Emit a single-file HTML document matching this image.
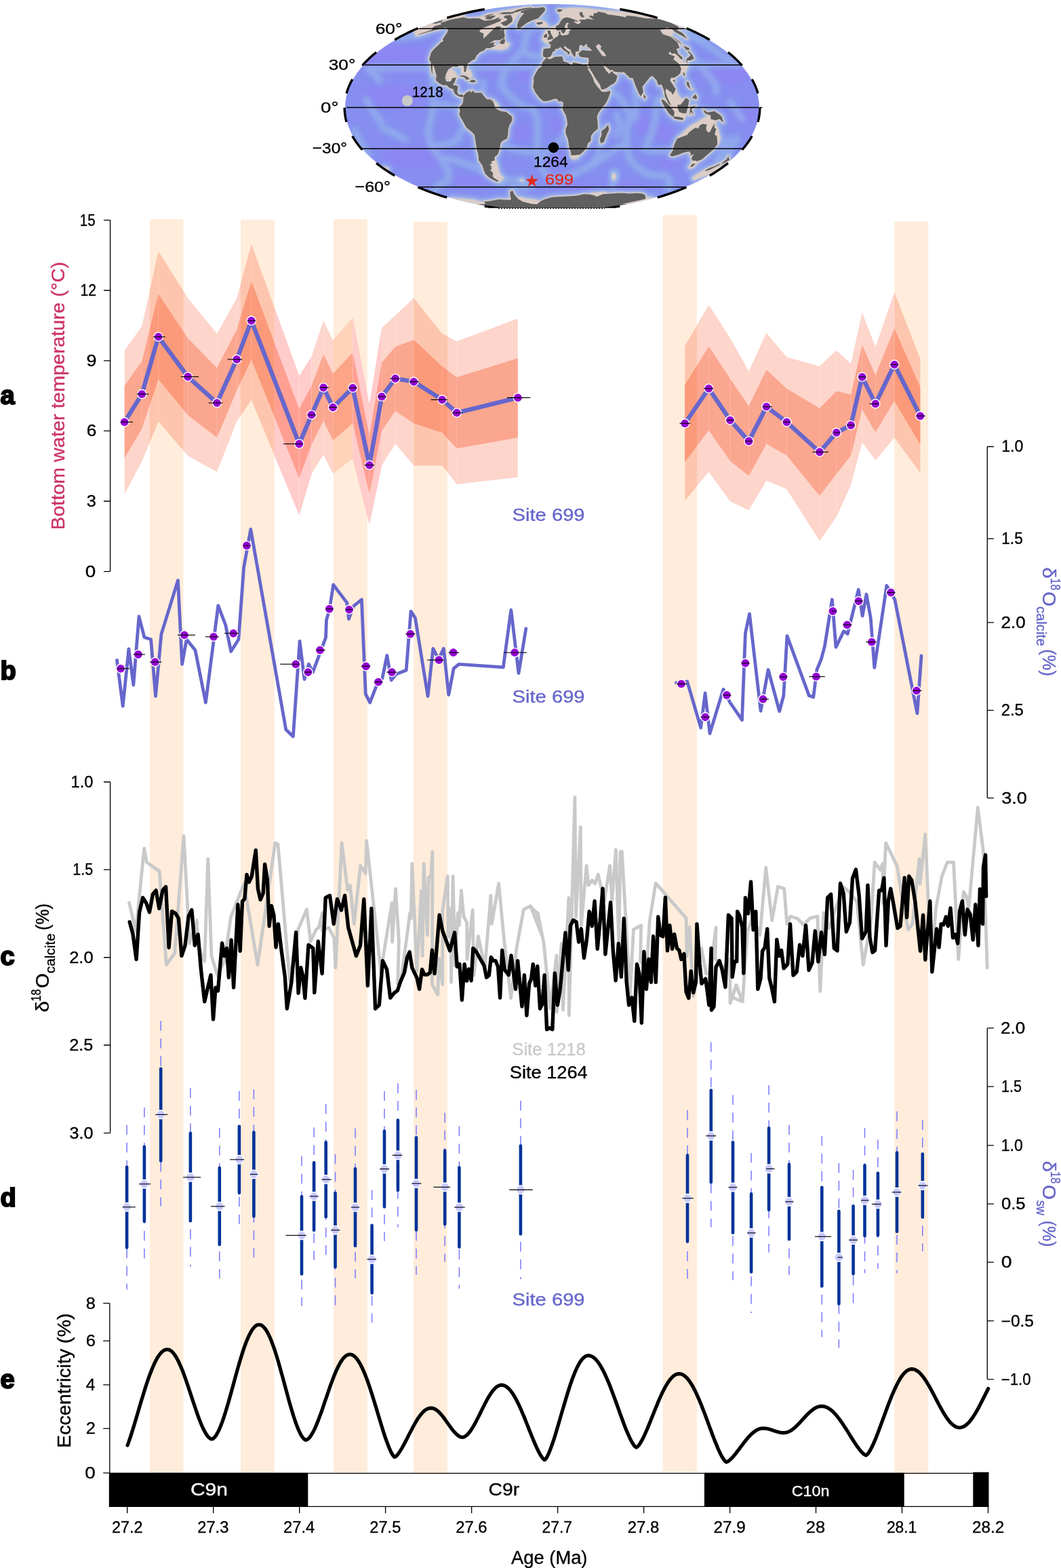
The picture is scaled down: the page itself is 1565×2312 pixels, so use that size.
<!DOCTYPE html>
<html lang="en">
<head>
<meta charset="utf-8">
<title>Bottom water temperature and oxygen isotope records, Site 699</title>
<style>
html,body{margin:0;padding:0;background:#fff;}
body{width:1565px;height:2312px;}
svg{display:block;font-family:'Liberation Sans', Arial, Helvetica, sans-serif;}
</style>
</head>
<body>
<svg width="1565" height="2312" viewBox="0 0 1565 2312">
<rect width="1565" height="2312" fill="#fff"/>
<defs>
<clipPath id="globe"><ellipse cx="814.5" cy="158.8" rx="305.7" ry="153"/></clipPath>
<clipPath id="crop"><rect x="500" y="0" width="640" height="306.8"/></clipPath>
<filter id="b1" x="-30%" y="-30%" width="160%" height="160%"><feGaussianBlur stdDeviation="0.8"/></filter>
<filter id="b2" x="-30%" y="-30%" width="160%" height="160%"><feGaussianBlur stdDeviation="1.8"/></filter>
<filter id="b3" x="-30%" y="-30%" width="160%" height="160%"><feGaussianBlur stdDeviation="3"/></filter>
<filter id="b6" x="-30%" y="-30%" width="160%" height="160%"><feGaussianBlur stdDeviation="6"/></filter>
</defs>
<g id="map">
<g clip-path="url(#crop)"><g clip-path="url(#globe)">
<rect x="500" y="0" width="640" height="320" fill="#868ff0"/>
<g fill="#8d86f3" filter="url(#b6)" opacity="0.9"><ellipse cx="589.4" cy="87.2" rx="60" ry="22"/><ellipse cx="578.2" cy="142" rx="50" ry="18"/><ellipse cx="611.9" cy="230.4" rx="50" ry="18"/><ellipse cx="1070.2" cy="107" rx="40" ry="20"/><ellipse cx="1102.5" cy="169.3" rx="25" ry="12"/><ellipse cx="728" cy="101" rx="22" ry="12"/><ellipse cx="774" cy="113.1" rx="12" ry="10"/><ellipse cx="768.4" cy="196.3" rx="16" ry="14"/><ellipse cx="814.5" cy="236.2" rx="20" ry="10"/><ellipse cx="819.5" cy="183.9" rx="10" ry="12"/><ellipse cx="948.5" cy="183.9" rx="14" ry="14"/><ellipse cx="979.1" cy="196.3" rx="14" ry="14"/><ellipse cx="905.1" cy="196.3" rx="10" ry="10"/><ellipse cx="987.2" cy="240" rx="18" ry="8"/><ellipse cx="694.6" cy="267.1" rx="30" ry="8"/><ellipse cx="847.5" cy="275.4" rx="30" ry="6"/><ellipse cx="917.1" cy="272.2" rx="30" ry="6"/></g>
<path d="M808 24.1L803 28.4L797.2 32.8L790.7 37.4L783.7 42.2L775.5 52.2L774.8 62.8L772.1 73.8L764.7 81.4L757 89.1L750.8 97L744.5 105L741.6 113.1L738.8 121.3L744.1 133.7L750.5 140L757 146.2L763.6 151.5L770.3 156.7L778.8 158.8L787.3 160.9L792.6 175.6L792.8 186L793.1 196.3L792.7 206.5L792.5 216.6L793.2 226.5L794 236.2L797.6 243.8L801 251.2L809.5 262L814.5 263.7L819.4 265.4 M819.4 265.4L825.2 264.3L831.1 263.1L837.1 262L842.7 259L848.6 256L854.6 253L861 249.4L867.6 245.7L874.4 241.9L883.3 236.2L892.5 230.4L900.1 225.5L907.7 220.6L915.4 215.6L923.2 210.6 M923.2 210.6L924 200.4L924.2 190.1L927.1 180.8L929.6 171.4L925.7 163L921.5 154.6L912.4 142L901.6 133.7 M923.2 210.6L926 221.6L927.7 232.4L932.1 238.1L935.9 243.8L940.4 246.9L944.5 250L948.3 253L953.3 254.8L958.1 256.6L962.7 258.4L969.2 258.4L975.6 258.4L982.1 258.4L984.6 261.4L986.7 264.3L988.4 267.1L987.8 270.5L986.6 273.8L984.8 277.1L986.2 278.6L987.4 280.2L988.3 281.8 M951.2 220.6L954.9 212.6L958.2 204.5L961 196.3L963.4 188L965.4 179.7L966.8 171.4L967.9 163L968.4 154.6L968.5 146.2 M637.8 113.1L637.7 123.3L638.6 133.7L638.7 144.1L639.6 154.6L637.2 165.1L635.6 175.6L633.2 186L631.7 196.3L633.8 206.5L636.8 216.6L643.9 226.5L651.9 236.2L656.4 244.7L662 253L661.5 259.3L662.2 265.4L658.6 267.1L655.2 268.8L652 270.5L649.1 272.2L646.5 273.8L644.2 275.4L642.9 277.1L641.9 278.6L641.2 280.2L640.7 281.8 M649.2 232.4L656.5 233.7L663.8 234.9L670.9 236.2L678.4 238.8L685.8 241.3L693.1 243.8L701.7 247.5L710.3 251.2 M639.6 154.6L646.4 154.6L653.2 154.6L665.1 156.7L675.2 158.8 M681.5 190.1L676.7 204.5L670 208.6L663.5 212.6L656.9 213.3L650.3 213.9L643.7 214.6 M560.2 119.2L556.2 114.1L552.7 109L547.4 105L542.5 101L548.9 100.9L555.3 100.8L561.7 100.8L568 100.7L574.4 100.6L580.8 100.6L587.2 100.5L593.6 100.4L600 100.4L606.3 100.3L612.7 100.2L619.1 100.2L625.4 100.1L631.8 100L638.2 99.9L644.5 99.9L650.9 99.8L657.2 99.7L663.6 99.7L669.9 99.6L676.3 99.5L682.6 99.5L689 99.4L695.3 99.3L701.6 99.3L708 99.2L714.3 99.1L720.6 99.1L727 99L733.3 98.9L739.6 98.8L745.9 98.8L752.2 98.7L758.6 98.6L764.9 98.6L771.2 98.5L777.5 98.4L783.8 98.4L790.1 98.3L796.4 98.2L802.7 98.2L809 98.1L815.3 98L821.5 98L827.8 97.9L834.1 97.8L840.4 97.7L846.7 97.7L852.9 97.6L859.2 97.5L865.5 97.5L871.7 97.4L878 97.3L884.3 97.3L890.5 97.2L896.8 97.1L903 97.1L909.3 97L915.5 96.9L921.8 96.9L928 96.8L934.2 96.7L940.5 96.6L946.7 96.6L952.9 96.5L959.2 96.4L965.4 96.4L971.6 96.3L977.8 96.2L984 96.2L990.3 96.1L996.5 96L1002.7 96L1008.9 95.9L1015.1 95.8L1021.3 95.8L1027.5 95.7L1033.7 95.6L1039.9 95.6L1046 95.5L1052.2 95.4L1058.4 95.4L1064.6 95.3L1070.8 95.2L1076.9 95.1L1083.1 95.1L1089.3 95L1067.1 83.3L1056.9 75.7L1045.8 68.2L1022.7 55.6 M796.6 232.4L802.4 227.5L808.3 222.6L814.5 217.6L820.9 212.6L830.8 202.5 M786.9 224.6L779.1 223.6L771.3 222.6L764.9 221.6L758.6 220.6L751.8 217.6L744.9 214.6 M936.8 133.7L937.9 144.1L938.4 154.6L937.5 165.1L936 175.6 M909.4 169.3L915 183.9L912.3 192.2L909.3 200.4 M885.7 214.6L882.5 228.5L877.5 236.2 M908.2 253L907.1 265.4L902.4 275.4 M959.6 222.6L965.8 222.6L972 222.6L980.2 221.6L988.5 220.6 M522.8 192.2L527.2 202.5L533.1 212.6L538 220.6L543.9 228.5 M1073.8 204.5L1070.5 212.6L1066.2 220.6L1062.5 228.5L1057.7 236.2 M1086.8 204.5L1081.6 212.6L1075.5 220.6L1074.6 228.5 M540.3 146.2L544.6 154.6L549.7 163L555.5 171.4L562.1 179.7 M564.4 188L572.5 192.2L580.7 196.3L589.4 201.4L598.3 206.5 M1029.2 91.1L1036.3 100L1042.5 109L1049.8 117.2L1056.5 125.4L1056.3 135.8 M1077.3 150.4L1086.1 163L1094.7 175.6 M771.3 77.6L776.7 79.5L782.3 81.4L788 82.3L793.8 83.3 M736.6 268.8L741.9 267.1L747.5 265.4L752.8 265.4L758.1 265.4L763.3 265.4L768.7 266.6L773.9 267.7L779.1 268.8L784.3 273.8L779.8 274.9L775.6 276L771.4 277.1L766 277.1L760.6 277.1L755.2 277.1 M712.4 121.3L712.5 131.6 M622.6 50.5L613.5 52.2L604.3 53.9L595.8 55.2L587.1 56.5 M1041.9 56.5L1034.5 55.2L1027.2 53.9L1012.4 50.5" fill="none" stroke="#90b0ec" stroke-width="13" stroke-linecap="round" stroke-linejoin="round" filter="url(#b3)" opacity="0.5"/>
<path d="M808 24.1L803 28.4L797.2 32.8L790.7 37.4L783.7 42.2L775.5 52.2L774.8 62.8L772.1 73.8L764.7 81.4L757 89.1L750.8 97L744.5 105L741.6 113.1L738.8 121.3L744.1 133.7L750.5 140L757 146.2L763.6 151.5L770.3 156.7L778.8 158.8L787.3 160.9L792.6 175.6L792.8 186L793.1 196.3L792.7 206.5L792.5 216.6L793.2 226.5L794 236.2L797.6 243.8L801 251.2L809.5 262L814.5 263.7L819.4 265.4 M819.4 265.4L825.2 264.3L831.1 263.1L837.1 262L842.7 259L848.6 256L854.6 253L861 249.4L867.6 245.7L874.4 241.9L883.3 236.2L892.5 230.4L900.1 225.5L907.7 220.6L915.4 215.6L923.2 210.6 M923.2 210.6L924 200.4L924.2 190.1L927.1 180.8L929.6 171.4L925.7 163L921.5 154.6L912.4 142L901.6 133.7 M923.2 210.6L926 221.6L927.7 232.4L932.1 238.1L935.9 243.8L940.4 246.9L944.5 250L948.3 253L953.3 254.8L958.1 256.6L962.7 258.4L969.2 258.4L975.6 258.4L982.1 258.4L984.6 261.4L986.7 264.3L988.4 267.1L987.8 270.5L986.6 273.8L984.8 277.1L986.2 278.6L987.4 280.2L988.3 281.8 M951.2 220.6L954.9 212.6L958.2 204.5L961 196.3L963.4 188L965.4 179.7L966.8 171.4L967.9 163L968.4 154.6L968.5 146.2 M637.8 113.1L637.7 123.3L638.6 133.7L638.7 144.1L639.6 154.6L637.2 165.1L635.6 175.6L633.2 186L631.7 196.3L633.8 206.5L636.8 216.6L643.9 226.5L651.9 236.2L656.4 244.7L662 253L661.5 259.3L662.2 265.4L658.6 267.1L655.2 268.8L652 270.5L649.1 272.2L646.5 273.8L644.2 275.4L642.9 277.1L641.9 278.6L641.2 280.2L640.7 281.8 M649.2 232.4L656.5 233.7L663.8 234.9L670.9 236.2L678.4 238.8L685.8 241.3L693.1 243.8L701.7 247.5L710.3 251.2 M639.6 154.6L646.4 154.6L653.2 154.6L665.1 156.7L675.2 158.8 M681.5 190.1L676.7 204.5L670 208.6L663.5 212.6L656.9 213.3L650.3 213.9L643.7 214.6 M560.2 119.2L556.2 114.1L552.7 109L547.4 105L542.5 101L548.9 100.9L555.3 100.8L561.7 100.8L568 100.7L574.4 100.6L580.8 100.6L587.2 100.5L593.6 100.4L600 100.4L606.3 100.3L612.7 100.2L619.1 100.2L625.4 100.1L631.8 100L638.2 99.9L644.5 99.9L650.9 99.8L657.2 99.7L663.6 99.7L669.9 99.6L676.3 99.5L682.6 99.5L689 99.4L695.3 99.3L701.6 99.3L708 99.2L714.3 99.1L720.6 99.1L727 99L733.3 98.9L739.6 98.8L745.9 98.8L752.2 98.7L758.6 98.6L764.9 98.6L771.2 98.5L777.5 98.4L783.8 98.4L790.1 98.3L796.4 98.2L802.7 98.2L809 98.1L815.3 98L821.5 98L827.8 97.9L834.1 97.8L840.4 97.7L846.7 97.7L852.9 97.6L859.2 97.5L865.5 97.5L871.7 97.4L878 97.3L884.3 97.3L890.5 97.2L896.8 97.1L903 97.1L909.3 97L915.5 96.9L921.8 96.9L928 96.8L934.2 96.7L940.5 96.6L946.7 96.6L952.9 96.5L959.2 96.4L965.4 96.4L971.6 96.3L977.8 96.2L984 96.2L990.3 96.1L996.5 96L1002.7 96L1008.9 95.9L1015.1 95.8L1021.3 95.8L1027.5 95.7L1033.7 95.6L1039.9 95.6L1046 95.5L1052.2 95.4L1058.4 95.4L1064.6 95.3L1070.8 95.2L1076.9 95.1L1083.1 95.1L1089.3 95L1067.1 83.3L1056.9 75.7L1045.8 68.2L1022.7 55.6 M796.6 232.4L802.4 227.5L808.3 222.6L814.5 217.6L820.9 212.6L830.8 202.5 M786.9 224.6L779.1 223.6L771.3 222.6L764.9 221.6L758.6 220.6L751.8 217.6L744.9 214.6 M936.8 133.7L937.9 144.1L938.4 154.6L937.5 165.1L936 175.6 M909.4 169.3L915 183.9L912.3 192.2L909.3 200.4 M885.7 214.6L882.5 228.5L877.5 236.2 M908.2 253L907.1 265.4L902.4 275.4 M959.6 222.6L965.8 222.6L972 222.6L980.2 221.6L988.5 220.6 M522.8 192.2L527.2 202.5L533.1 212.6L538 220.6L543.9 228.5 M1073.8 204.5L1070.5 212.6L1066.2 220.6L1062.5 228.5L1057.7 236.2 M1086.8 204.5L1081.6 212.6L1075.5 220.6L1074.6 228.5 M540.3 146.2L544.6 154.6L549.7 163L555.5 171.4L562.1 179.7 M564.4 188L572.5 192.2L580.7 196.3L589.4 201.4L598.3 206.5 M1029.2 91.1L1036.3 100L1042.5 109L1049.8 117.2L1056.5 125.4L1056.3 135.8 M1077.3 150.4L1086.1 163L1094.7 175.6 M771.3 77.6L776.7 79.5L782.3 81.4L788 82.3L793.8 83.3 M736.6 268.8L741.9 267.1L747.5 265.4L752.8 265.4L758.1 265.4L763.3 265.4L768.7 266.6L773.9 267.7L779.1 268.8L784.3 273.8L779.8 274.9L775.6 276L771.4 277.1L766 277.1L760.6 277.1L755.2 277.1 M712.4 121.3L712.5 131.6 M622.6 50.5L613.5 52.2L604.3 53.9L595.8 55.2L587.1 56.5 M1041.9 56.5L1034.5 55.2L1027.2 53.9L1012.4 50.5" fill="none" stroke="#a4c8ea" stroke-width="6" stroke-linecap="round" stroke-linejoin="round" filter="url(#b3)" opacity="0.3"/>
<path d="M650.7 33.5L665 29.1L674.3 27.3L683.5 25.5L685.5 26L687.6 26.4L689.7 26.9L692 27.4L697.3 27.1L702.5 26.9L706.9 26.9L708.8 28L710.9 29.1L714.5 30.5L718.9 30.2L723.2 29.8L729.3 28.4L737.4 24.8L734.6 28.4L740.2 27.6L737.6 31.3L726.6 35.8L714.3 40.5L707.7 44.6L707.7 47.1L713.4 49.6L713.1 53.9L713.2 56.9L718.3 52.2L726.3 44.6L732.2 39L737.4 39L739.1 40.5L737.6 44.6L744.2 42.2L743.2 46.3L744.4 51.3L744.3 55.6L737.2 59.2L729.4 59.2L720.8 64.6L729.1 61.9L727.9 66.4L731.5 67.3L722.7 71L717.1 71L713.8 74.7L708.5 76.6L703.2 81.4L700.4 87.2L696.6 89.1L689.9 94L687.9 101L687 106L684.6 106L684.3 101L684 97L678 96.4L674 98.6L668 98L661.5 102L657.9 109L656.6 115.1L658.4 120.3L664.9 120.3L667.2 115.1L673.1 114.5L670.4 121.3L667.8 125.4L671.9 125.8L675.7 127.5L674.3 135.8L677.1 140L680.6 138.9L683.8 141L682.7 143.1L679.4 143.1L676.9 142L674.5 141L670.7 137.9L668.3 131.6L662.8 129.6L658.7 125.4L653.6 125.8L647.8 122.7L642.6 118.2L643.9 112.1L642.3 106L639.7 97L638.3 94L637.9 99L637.8 109L637.8 111.1L636.4 105L635.3 98L635.7 92.1L633 88.1L634.3 83.3L636 77.6L640.5 71.9L647.6 65.5L650.5 62.2L653.9 61L653 57.4L657.4 51.3L660.1 47.1L660.8 44.6L660.6 42.2L657.2 40.5L648.1 43L641.6 44.6L632.3 47.1L620.2 50.5L615.1 51.3L630.4 46.3L637.5 43.8L636.5 42.2L641.6 38.2L651.8 35.8L649.7 35.1Z M769 16.5L767.7 18.9L770.5 18.9L773.2 18.9L767.1 26.9L764.8 31.3L763 35.8L762.8 40.5L766.1 42.2L770.2 39L777.5 33.5L785.3 29.8L789.6 28.4L793.8 26.9L797.1 23.5L800.1 20.2L803.3 16.5L804.2 13.1L802.8 11.7L802 10.5L799.4 10.8L796.7 11.2L793.9 11.5L791.2 11.7L788.5 11.8L785.8 12L781.4 13.1L776.9 14.2Z M753.4 22.1L754 24.1L755.9 26.9L755.6 32L746.6 38.2L742.2 37.4L740.6 35.1L737.5 34.3L747.8 29.8L747.3 26.9L742.4 26.2L745.3 22.8L749.4 22.5Z M719.3 24.1L715.5 26.9L718.6 28.4L724 28.4L731.3 23.5L728.9 22.8L724.2 23.5Z M713.7 24.1L716.1 24.8L725.9 22.1L728.3 20.2L721.7 21.5Z M755.5 17.7L758.1 18L760.7 18.3L770.3 15.3L775.4 14.2L780.2 13.1L784.8 12L784.2 11.5L783.8 11L780.6 11.3L777.3 11.7L773.8 12L763.6 14.2Z M735.4 20.2L738.2 20.5L741.1 20.8L744.1 20.8L747 20.8L751.3 20.5L755.6 20.2L759.4 18.3L757 18.1L754.5 17.9L752.2 17.7L748.8 17.9L745.4 18.1L741.9 18.3Z M736.3 63.1L740.1 64.9L743.6 64.6L745.1 60.1L743.8 56.5L739.7 59.2Z M676.7 113.1L682.2 111.1L688.2 112.5L693.3 116.8L687.8 117.4L684.7 113.7L680 113.1Z M692 120.5L696 117.4L700.7 118.2L702 120.5L697.5 121.7L694.4 120.9Z M683.8 141L687.6 136.8L693.9 133.7L694.3 136.8L697.2 133.7L700.2 136.8L706.9 136.8L710.3 136.8L713.3 141L718 146.2L723.1 146.6L727.2 149.4L729.6 155.7L729.6 158.8L733 160.9L739 164L746.6 165.1L751.8 169.3L755.3 171.4L755.5 177.6L751.7 183.9L749.7 190.1L749.5 196.3L748 204.5L743.5 206.5L739.2 209.6L737.8 214.6L736.8 220.6L735 225.5L733.6 228.5L730.5 230.4L729.2 233.3L730.3 236.2L724.5 238.1L725.4 241.9L721.8 241.9L724.6 244.7L724.9 249.4L723.1 251.2L727.2 254.8L726.7 260.2L729.2 262.8L735.7 266.8L733.6 268L728 265.4L721.7 262L715.9 256.6L713.7 251.2L711.4 243.8L706.1 236.2L705.6 228.5L703.4 220.6L701.8 210.6L699.7 198.4L695.5 194.3L687.8 188L683.3 179.7L679.2 172.4L677.2 168.2L678.7 164L677.8 160.9L678.6 156.7L681.2 154.6L683.1 150.4L683.5 144.1Z M805.6 85.6L811.5 87.2L818.9 83.7L829.3 83.3L831.1 89.1L830.4 90.1L837.5 92.4L844 96.4L845.1 92.1L852.9 93.4L859.3 95L864.7 95L868.7 101L866.4 101L871.5 109L874.7 115.1L876.1 120.3L880.1 126.4L886.5 133.7L887.5 135.2L893.4 135.4L899.9 133.7L900.2 136.8L895.8 148.3L892.6 153.6L885.8 161.9L882.3 167.2L880.5 172.4L881.7 180.8L881.8 190.1L875.5 195.3L871.7 200.4L871.6 207.6L867.1 211.6L865.5 217.6L861.6 222.6L855.4 228.1L847.7 228.9L842.4 229.1L842.1 224.6L839.6 217.6L837.9 205.5L834.3 196.3L834.4 190.1L837.1 183.9L836.4 177.6L834.8 170.3L829.8 160.9L830.6 156.7L830.6 150.8L828.1 149.4L823.8 149.4L821.3 145.6L816.2 146.2L810.3 148.3L801.8 149.4L795.9 144.6L791.8 138.9L789.3 135.8L786.2 128.1L787.4 119.2L786.8 115.1L789.6 109L794 101.6L798.9 98L800 92.1Z M897.1 183.9L898.3 191.2L894.9 198.4L890.6 209.6L886.2 211.6L884.8 205.5L887.4 199.4L887.3 193.2L892.7 189.1Z M801.2 83.3L800.7 80L801.9 71.9L811.7 71L812.5 66.4L808.6 61.9L812.5 61.5L816.4 57.4L819.5 55.6L823.1 53L824.7 50.5L823.8 47.1L826.6 46.3L826.5 50.5L829.1 52.2L831.6 52.2L836.9 51.3L839.5 49.6L839.2 46.3L841.6 44.6L840.7 43.3L845.5 42.6L847.5 42.2L841.9 41.8L837.9 41.3L836.7 37.4L839.2 34.3L835.8 33.2L833 39L833 41.3L835 43L833.6 47.1L831.2 49.6L829.3 48.8L826.8 43.8L823.1 45.4L820.1 43.8L819.8 39L824.6 35.8L827.5 30.5L830.9 26.9L835.4 25.5L840.9 26.5L846.1 28.5L851.5 30.5L853.5 32L847.5 31.6L845.9 32L851.9 35.8L854.4 35.1L856.9 32.8L854.1 29.1L858.2 29.1L862.2 29.1L867 27.6L871.3 28.4L875.7 29.1L868.5 24.1L871.3 22.8L875 24.1L875.6 22.1L875.7 19.5L878.8 19.2L881.9 18.9L881 16.8L886.5 17.9L892.2 18.9L896.9 21.5L902.3 22.1L907.9 22.8L915.3 24.1L922.9 25.5L923.7 24.3L924.2 23.1L929.8 23.6L935.5 24.1L943.8 25.5L952.3 26.9L957.7 27.3L963.2 27.6L968.7 28L974.3 28.4L992.1 34.3L992.3 35.1L1000.3 39L1001.3 42.2L998.7 44.6L1006.9 48.8L1014.2 57.4L995.5 47.1L990.3 42.2L982.6 40.5L980.9 43L977.3 43.4L973.5 43.8L977.6 50.5L988.8 53.9L999.6 62.8L1002.3 71L997.6 71.9L999.1 75.7L1000.4 79.5L1007.3 85.2L1005.1 88.1L999.8 82.3L995.2 78.5L990.9 79.5L988.4 75.7L985.9 79.5L995.4 83.3L993.1 87.2L1001.4 94L1004.8 101L1003.5 108L998.9 112.1L993.5 115.1L990.7 114.1L988.1 118.2L996.7 131.6L994.3 136.8L991.5 140L991 136.8L982.3 130.6L981.6 135.8L984.4 144.1L990.2 155.7L985.9 152.5L980.8 142L979.5 133.7L975.8 124.4L971.1 125.4L968.4 118.2L962.5 112.1L958.9 113.5L955.9 117.2L950.2 124.4L947.5 127.5L948.8 135.8L945.3 142L942.4 137.9L937.1 125.4L933.3 115.1L929.3 115.1L924 110L920.6 106.4L912.7 106.6L905.2 105.4L903.8 103L900 103.6L893.2 98L889.8 97L893.8 104L896.8 107L898 109L902.7 105L905 108L910.7 112.1L908.8 119.2L905.4 123.3L900.7 125.4L895.3 129.6L889.7 132L886.9 131.6L884.8 124.4L878 115.1L873.6 107L869.5 101L868.3 98L867.7 94.4L868.4 90.1L868.1 85.2L862.8 84.8L859.1 84.6L855.1 83.3L853 79.5L855.8 75.7L859.7 73.8L865.6 74.7L873.4 74.7L870.1 71L865.8 68.2L865.9 64.2L862.1 67.3L860.6 69.1L858.5 66.4L855.1 66.4L854.1 71L854.2 74.7L851.7 76.2L848.8 76L848.9 81.4L847.9 84.3L846.1 82.3L842.4 76.6L842 73.8L836.8 71L832.9 67.3L831.8 70.1L835.7 73.8L841.1 77.2L839.2 79.5L837.9 81.4L837.1 77.6L832.2 74.7L829.2 71.9L826.5 69.3L822.9 71.9L818.7 71.9L818.8 74.7L815.2 76.6L813.8 80.4L811.5 83.7L806.3 85.2Z M654.7 28.4L652.5 30.5L650.8 32.8L641.7 35.1L636.9 34.3Z M807.4 59.2L816.4 57.1L814.5 53L812.1 48.8L812.2 46.3L810 44.6L807.7 45.4L808.5 50.5L810.8 52.2L808.9 53.9L808.2 56Z M802 55.6L807 55.6L807.3 50.5L805 50L802.3 52.2Z M791.1 33.5L792.3 35.8L796.1 36.6L800.7 34.3L800.2 32.3L795.2 32.8Z M821 15.3L824.3 17.7L828.2 16.5L830 14.2L827 13.9L824.1 13.6Z M857.9 25.5L862 25.5L859.1 20.2L859.1 17.7L857 18L854.8 18.3L854.9 21.5Z M1014.5 94L1013.3 89.1L1018.6 89.1L1023.8 86.2L1020.9 80.4L1016.2 75.7L1014.1 75.7L1018.8 81.4L1016.9 83.3L1013.3 86.2L1011.8 90.1Z M1012.2 73.8L1016.4 73.8L1016.9 71L1007.8 67.3Z M1006.7 66.4L1001.9 61L988.7 52.2L992.6 55.6Z M948.9 138.9L952.7 143.1L950.8 146.2L949.2 142Z M1007.7 106.6L1010 108L1010.3 113.1L1007.8 110Z M992.6 118.6L995.1 117.2L996.1 120.3L993.8 120.7Z M975.3 146.6L979.7 147.7L985.1 153.6L991.1 159.8L994.9 165.1L993.9 171.4L991.4 171.4L986.6 167.2L981.8 159.8L977.4 152.5Z M992.7 171.8L998.1 172L1002.3 172.4L1008 174.1L1007.6 177L1000.1 176.2L994.4 174.7Z M999.5 154.6L1003.8 154.6L1007 150.4L1012 144.1L1016.4 147.9L1014.9 156.7L1012.1 167.2L1006.2 166.8L1001.7 165.1L999.6 159.8Z M1016.9 170.3L1018.3 157.8L1026.7 155.7L1020 160.9L1022.9 169.3L1019 165.1Z M1037 160.9L1043.5 165.7L1053.8 164L1060.3 168.2L1064.2 171.4L1067.4 180.8L1061 175.6L1055.5 177.6L1048.3 175.6L1048.2 170.3L1040 167.2Z M1012.5 120.3L1015.9 121.3L1017.9 129.6L1021.7 131.6L1016.2 129.6L1013.4 125.4Z M1020.7 144.1L1025.8 138.9L1028.3 144.1L1027 146.6Z M998.8 204.5L994.9 212.6L992.6 221.6L988 229.1L991.6 230.4L1000.6 228.3L1007.3 225.2L1012.7 224L1016.8 223.6L1018.9 226.1L1018.2 230L1023.9 226.5L1020.8 231.4L1020.4 235.3L1021.2 236.8L1025.6 236.8L1028.3 237.8L1035.5 234.9L1042.8 228.5L1052.2 220.6L1058.2 212.6L1057.9 205.5L1057.2 200.4L1054 198.4L1056.4 190.1L1053.7 188L1053.9 181.4L1050.9 187L1046.9 194.9L1044.6 195.3L1041.7 191.8L1041.5 187L1043.2 183.9L1036.8 182.4L1032 184.9L1029.9 189.7L1026.2 188L1022.1 190.7L1016.4 194.9L1013.6 199L1005.2 201.9Z M1021.4 241.4L1026.2 241.6L1021.4 245.7L1018.3 246.6L1018.7 244.7Z M1074.6 229.5L1074.8 233.3L1076.3 235.7L1070.4 239.1L1062.8 242.9L1067.1 239.1L1066.2 238.7L1071.5 235.3Z M1061.9 241L1061.3 243.2L1054.7 246.6L1047.3 250.3L1041.7 252.3L1039.9 251.2L1046.9 247.5L1054.8 244.7Z M702.4 301.1L704.9 301.1L707.4 301.1L709.9 301.1L712.3 301.1L714.8 301.1L715.4 300.5L716.1 299.9L714.8 298.7L713.9 297.4L715.9 297.2L718 296.9L720.2 296.7L722.4 296.4L724.7 296.1L726.6 295.7L728.7 295.3L730.8 294.9L733 294.5L735.3 294.1L738.7 294.3L742.1 294.4L745.5 294.5L748.9 294.7L752.3 294.8L754 293.5L752.4 287.8L752.6 282.5L756.3 281L758.2 286.3L764.5 293.5L771.4 297.4L776.7 298.7L781.7 299.9L786.5 301.1L789.6 301.1L792.7 301.1L794.3 299.3L796.5 297.4L799.4 295.8L802.6 294.1L806.3 293L810.3 291.8L814.5 290.7L818.8 290.4L823.2 290.2L827.6 290L832.1 289.7L836.6 289.5L841.1 289.2L845.8 288.9L850.5 288.5L855.9 287.4L861.4 286.3L865.9 286.5L870.4 286.8L874 287.6L877.5 288.5L880.1 290L889.6 286.3L894.8 286L900.1 285.6L905.4 285.2L910.8 284.8L915.6 284.8L920.4 284.8L924.5 285.2L928.6 285.6L934.1 285.2L939.7 284.8L943.7 285.2L947.6 285.6L949.7 286.7L951.5 287.8L952.1 289.2L952.3 290.7L952.1 292.1L951.6 293.5L933.1 297.4L917.3 301.1L920.4 301.1L923.5 301.1L926.6 301.1L900.6 305.6L869.1 309.3L814.5 311.8L814.5 311.8L814.5 311.8L814.5 311.8L814.5 311.8L814.5 311.8L814.5 311.8L814.5 311.8L814.5 311.8L814.5 311.8L814.5 311.8L814.5 311.8L814.5 311.8L814.5 311.8L814.5 311.8L814.5 311.8L814.5 311.8L814.5 311.8L814.5 311.8L814.5 311.8L814.5 311.8L814.5 311.8L814.5 311.8L814.5 311.8L814.5 311.8L814.5 311.8L814.5 311.8L814.5 311.8L814.5 311.8L814.5 311.8L814.5 311.8L814.5 311.8L814.5 311.8L814.5 311.8L814.5 311.8L814.5 311.8L814.5 311.8L814.5 311.8L814.5 311.8L814.5 311.8L814.5 311.8L814.5 311.8L814.5 311.8L814.5 311.8L814.5 311.8L814.5 311.8L814.5 311.8L814.5 311.8L814.5 311.8L814.5 311.8L814.5 311.8L814.5 311.8L814.5 311.8L814.5 311.8L814.5 311.8L814.5 311.8L814.5 311.8L814.5 311.8L814.5 311.8L814.5 311.8L814.5 311.8L814.5 311.8L814.5 311.8L814.5 311.8L814.5 311.8L814.5 311.8L814.5 311.8L814.5 311.8L814.5 311.8L814.5 311.8L814.5 311.8L814.5 311.8L814.5 311.8L814.5 311.8L814.5 311.8L814.5 311.8L814.5 311.8L814.5 311.8L814.5 311.8L814.5 311.8L814.5 311.8L814.5 311.8L814.5 311.8L814.5 311.8L814.5 311.8L814.5 311.8L814.5 311.8L814.5 311.8L814.5 311.8L814.5 311.8L814.5 311.8L759.9 309.3L728.4 305.6Z M827.8 28.4L832.3 28.4L836.7 28.4L841.1 28.4L845.1 28.6L849 28.8L853 29L857 29.2L861.1 29.4L865.2 29.6L869.3 29.8L872.3 29L875.1 28.1L877.8 27.3L880.3 26.5L882.7 25.7L885 24.9L887.1 24.1L890.5 24.1L894 24.1L897.4 24.1L900.9 24.1L904.4 24.1L907.8 24.1L911.3 24.1L915.7 24.5L920.2 24.9L924.8 25.3L929.4 25.7L934.1 26.1L938.9 26.5L943.7 26.9L948.5 27.3L953.5 27.7L958.4 28.1L963.5 28.6L968.6 29L973.7 29.4L978.9 29.8L949.3 21.5L942 20.6L934.9 19.7L928 18.9L923.2 18.4L918.5 17.9L913.8 17.4L909.3 16.9L904.8 16.5L901.4 16.3L898.1 16.1L894.8 15.9L891.5 15.7L888.3 15.5L885.2 15.3L881.2 14.8L877.3 14.4L873.5 13.9L869.8 13.5L866.2 13.1L863.4 12.8L860.7 12.6L858 12.4L855.4 12.2L852.8 12L850.9 12L849 12L847 12L845.1 12L843.2 12L841.7 12.2L840.2 12.4L838.6 12.6L836.9 12.8L835.2 13.1L833 13.4L830.7 13.8L828.3 14.2L826.6 15.9L824.3 17.7L826.2 22.8Z M650.1 29.8L654.7 29.8L659.2 29.8L663.8 29.8L674.2 27.6L684.4 25.5L685.1 24.1L686.1 22.8L683.9 22.4L681.8 21.9L679.7 21.5Z M700.9 28.4L703.5 28.8L706.2 29.2L709 29.6L711.8 30L714.7 30.4L717.6 30.9L720.7 31.3L724.6 31.8L728.6 32.3L732.7 32.8L734.6 35.1L737 37.4L741.1 39L745.5 40.5L756.7 32.8L762.1 24.1L767.3 17.7L775 15.3L782.5 13.1L783.6 11.7L785.3 10.5L782.7 10.7L780.2 11L777.5 11.2L774.7 11.5L771.9 11.7L769 12L763.8 12.8L758.3 13.7L752.7 14.6L746.9 15.5L741 16.5L729.9 18.9L718.7 21.5Z M712.1 40.5L706.3 46.3L708.7 48.4L711.4 50.5L711.6 55.6L714 57.4L721 50.5L729.9 42.2L732.9 37.4L731.6 33.5L722.6 35.8Z M800.3 59.2L807.8 64.6L813.2 61.9L818.4 59.2L825.5 53L831.6 52.2L836.3 51.3L840.9 50.5L844.4 46.3L847.5 42.2L837.6 32.8L833.5 39L828.4 47.1L821.3 44.6L818.7 39L811.3 40.5L804.1 47.1Z M612.9 43.8L612 46.3L611.5 48.8L613.5 52.2L632.7 46.3L639.9 40.5L650.7 34.3L655 31.3L651.4 30.9L647.8 30.5L629.5 37Z M1016.1 43.8L1008.9 42.6L1001.7 41.3L996.4 37.4L992.1 34.3Z M980.2 52.2L990.1 53.9L991 51.3L991.5 48.8L993.2 47.1L994.7 45.4L989.1 40.5L979.8 39.7L977.8 41.3L975.4 43L978.2 47.5Z M985.1 78.5L992.1 79.9L999.1 81.4L1007.1 91.1L1014.9 97L1011.1 107L1002.8 110L999.7 95L992.7 86.7Z M979 135.8L984.6 145.7L989.4 155.7L993.9 171.4L1001.2 174L1008.5 176.6L1014.7 165.1L1014.6 150.4L1002.1 144.1L997.1 133.7L993.5 125.4L989.4 117.2L986.2 129.6Z M1000.1 202.5L1009.4 194.3L1018.4 186L1026.1 181.8L1033.6 177.6L1046.6 169.3L1057.4 176.6L1053.5 186L1047.1 195.3L1039.9 192.2L1031.5 187L1023.3 192.2L1015 197.3L1007.5 199.9Z M1054.6 181.8L1058.9 190.1L1062.5 204.5L1059.3 212.6L1057 208.6L1054 198.4L1054.7 190.1Z M1021.3 234.3L1025.4 236.2L1032.8 236.2L1020.6 247.5L1015.1 247.5L1020.3 240Z M730.3 234.3L733.2 241.9L735.6 253L740.5 262L739.6 266.3L736 268L729.2 263.7L725.2 251.2L724.7 241.9Z M733.3 66.4L739.8 64.1L746.2 61.9L751.6 64.6L747.7 71L738.6 72.9L733.2 72.4L727.8 71.9L723.2 70.1Z M1037.8 251.2L1055 245.7L1059.9 246.1L1064.8 246.6L1058.1 251.2L1041.4 258.4L1022.8 265.4L1021.5 262Z M564.2 246.6L571 247.5L573.6 249.4L570.9 251.2Z M903.8 255.7L907.2 256.6L907.9 262L904.6 265.4L902.9 261.1Z M736.9 260.2L741.4 260.2L743 263L738.6 263Z M767.5 265.1L771.3 265.4L771.9 267.1L768.2 266.8Z M841.7 228.5L848.6 228L855.5 227.5L851.6 233.3L844 234.3Z M658.7 105L657.3 113.1L663.3 120.3L673.2 114.1L673.2 109L667.4 103Z M678.2 96L687.1 97L686.7 107L681.2 109L680.8 101Z M688 103L694 104L696.2 113.1L690.8 115.1L687 111.1Z M889.1 97L894.9 102L904.3 105L902.6 108L896.2 108L892 103Z M866.4 101L871.5 109L878.5 119.2L885.3 129.6L887.3 132.7L884.2 126.4L876.4 115.1L869.8 103Z M726.4 147.3L733 152.5L736.4 159.8L729.6 158.8L727.2 150.4Z M750 293.5L752.4 292.9L754.8 292.4L757.4 291.8L760.1 291.2L762.8 290.7L768.1 291.6L773.3 292.5L778.2 293.5L782.6 293.9L786.9 294.4L791.2 294.8L797.3 298.7L795.1 299.4L793.1 300.2L791.2 300.9L789.5 301.6L788 302.3L785.3 302.1L782.5 301.9L779.7 301.7L776.8 301.5L773.9 301.3L770.9 301.1L760.6 297.4Z M952.3 290.7L954.9 291L957.4 291.2L959.8 291.5L962.3 291.8L964.6 292.1L943.9 297.4L920.5 302.3L918.1 302.3L915.8 302.3L913.4 302.3L911.1 302.3L908.7 302.3L931.9 296.8Z M664.4 292.1L669.3 292.5L674.2 292.9L679 293.3L683.8 293.6L688.5 294L693.2 294.4L697.8 294.8L726.2 302.3L723.6 302.3L721.1 302.3L718.6 302.3L716.1 302.3L713.6 302.3L711 302.3L708.5 302.3L685.1 297.4Z M872.3 284.8L876.4 284.5L880.6 284.2L884.9 283.9L889.1 283.6L893.5 283.3L887.3 289.2L883 289.7L878.9 290.2L874.8 290.7L872.2 289.2L869.3 287.8Z M790.1 31.3L793.6 38.2L797.6 39L801.7 39.7L805.9 40.5L808.3 37.4L803.1 32L799.6 30.9L796.2 29.8Z" fill="#9dbfea" stroke="#9dbfea" stroke-width="9" stroke-linejoin="round" filter="url(#b3)" opacity="0.85"/>
<path d="M827.8 28.4L832.3 28.4L836.7 28.4L841.1 28.4L845.1 28.6L849 28.8L853 29L857 29.2L861.1 29.4L865.2 29.6L869.3 29.8L872.3 29L875.1 28.1L877.8 27.3L880.3 26.5L882.7 25.7L885 24.9L887.1 24.1L890.5 24.1L894 24.1L897.4 24.1L900.9 24.1L904.4 24.1L907.8 24.1L911.3 24.1L915.7 24.5L920.2 24.9L924.8 25.3L929.4 25.7L934.1 26.1L938.9 26.5L943.7 26.9L948.5 27.3L953.5 27.7L958.4 28.1L963.5 28.6L968.6 29L973.7 29.4L978.9 29.8L949.3 21.5L942 20.6L934.9 19.7L928 18.9L923.2 18.4L918.5 17.9L913.8 17.4L909.3 16.9L904.8 16.5L901.4 16.3L898.1 16.1L894.8 15.9L891.5 15.7L888.3 15.5L885.2 15.3L881.2 14.8L877.3 14.4L873.5 13.9L869.8 13.5L866.2 13.1L863.4 12.8L860.7 12.6L858 12.4L855.4 12.2L852.8 12L850.9 12L849 12L847 12L845.1 12L843.2 12L841.7 12.2L840.2 12.4L838.6 12.6L836.9 12.8L835.2 13.1L833 13.4L830.7 13.8L828.3 14.2L826.6 15.9L824.3 17.7L826.2 22.8Z M650.1 29.8L654.7 29.8L659.2 29.8L663.8 29.8L674.2 27.6L684.4 25.5L685.1 24.1L686.1 22.8L683.9 22.4L681.8 21.9L679.7 21.5Z M700.9 28.4L703.5 28.8L706.2 29.2L709 29.6L711.8 30L714.7 30.4L717.6 30.9L720.7 31.3L724.6 31.8L728.6 32.3L732.7 32.8L734.6 35.1L737 37.4L741.1 39L745.5 40.5L756.7 32.8L762.1 24.1L767.3 17.7L775 15.3L782.5 13.1L783.6 11.7L785.3 10.5L782.7 10.7L780.2 11L777.5 11.2L774.7 11.5L771.9 11.7L769 12L763.8 12.8L758.3 13.7L752.7 14.6L746.9 15.5L741 16.5L729.9 18.9L718.7 21.5Z M712.1 40.5L706.3 46.3L708.7 48.4L711.4 50.5L711.6 55.6L714 57.4L721 50.5L729.9 42.2L732.9 37.4L731.6 33.5L722.6 35.8Z M800.3 59.2L807.8 64.6L813.2 61.9L818.4 59.2L825.5 53L831.6 52.2L836.3 51.3L840.9 50.5L844.4 46.3L847.5 42.2L837.6 32.8L833.5 39L828.4 47.1L821.3 44.6L818.7 39L811.3 40.5L804.1 47.1Z M612.9 43.8L612 46.3L611.5 48.8L613.5 52.2L632.7 46.3L639.9 40.5L650.7 34.3L655 31.3L651.4 30.9L647.8 30.5L629.5 37Z M1016.1 43.8L1008.9 42.6L1001.7 41.3L996.4 37.4L992.1 34.3Z M980.2 52.2L990.1 53.9L991 51.3L991.5 48.8L993.2 47.1L994.7 45.4L989.1 40.5L979.8 39.7L977.8 41.3L975.4 43L978.2 47.5Z M985.1 78.5L992.1 79.9L999.1 81.4L1007.1 91.1L1014.9 97L1011.1 107L1002.8 110L999.7 95L992.7 86.7Z M979 135.8L984.6 145.7L989.4 155.7L993.9 171.4L1001.2 174L1008.5 176.6L1014.7 165.1L1014.6 150.4L1002.1 144.1L997.1 133.7L993.5 125.4L989.4 117.2L986.2 129.6Z M1000.1 202.5L1009.4 194.3L1018.4 186L1026.1 181.8L1033.6 177.6L1046.6 169.3L1057.4 176.6L1053.5 186L1047.1 195.3L1039.9 192.2L1031.5 187L1023.3 192.2L1015 197.3L1007.5 199.9Z M1054.6 181.8L1058.9 190.1L1062.5 204.5L1059.3 212.6L1057 208.6L1054 198.4L1054.7 190.1Z M1021.3 234.3L1025.4 236.2L1032.8 236.2L1020.6 247.5L1015.1 247.5L1020.3 240Z M730.3 234.3L733.2 241.9L735.6 253L740.5 262L739.6 266.3L736 268L729.2 263.7L725.2 251.2L724.7 241.9Z M733.3 66.4L739.8 64.1L746.2 61.9L751.6 64.6L747.7 71L738.6 72.9L733.2 72.4L727.8 71.9L723.2 70.1Z M1037.8 251.2L1055 245.7L1059.9 246.1L1064.8 246.6L1058.1 251.2L1041.4 258.4L1022.8 265.4L1021.5 262Z M564.2 246.6L571 247.5L573.6 249.4L570.9 251.2Z M903.8 255.7L907.2 256.6L907.9 262L904.6 265.4L902.9 261.1Z M736.9 260.2L741.4 260.2L743 263L738.6 263Z M767.5 265.1L771.3 265.4L771.9 267.1L768.2 266.8Z M841.7 228.5L848.6 228L855.5 227.5L851.6 233.3L844 234.3Z M658.7 105L657.3 113.1L663.3 120.3L673.2 114.1L673.2 109L667.4 103Z M678.2 96L687.1 97L686.7 107L681.2 109L680.8 101Z M688 103L694 104L696.2 113.1L690.8 115.1L687 111.1Z M889.1 97L894.9 102L904.3 105L902.6 108L896.2 108L892 103Z M866.4 101L871.5 109L878.5 119.2L885.3 129.6L887.3 132.7L884.2 126.4L876.4 115.1L869.8 103Z M726.4 147.3L733 152.5L736.4 159.8L729.6 158.8L727.2 150.4Z M750 293.5L752.4 292.9L754.8 292.4L757.4 291.8L760.1 291.2L762.8 290.7L768.1 291.6L773.3 292.5L778.2 293.5L782.6 293.9L786.9 294.4L791.2 294.8L797.3 298.7L795.1 299.4L793.1 300.2L791.2 300.9L789.5 301.6L788 302.3L785.3 302.1L782.5 301.9L779.7 301.7L776.8 301.5L773.9 301.3L770.9 301.1L760.6 297.4Z M952.3 290.7L954.9 291L957.4 291.2L959.8 291.5L962.3 291.8L964.6 292.1L943.9 297.4L920.5 302.3L918.1 302.3L915.8 302.3L913.4 302.3L911.1 302.3L908.7 302.3L931.9 296.8Z M664.4 292.1L669.3 292.5L674.2 292.9L679 293.3L683.8 293.6L688.5 294L693.2 294.4L697.8 294.8L726.2 302.3L723.6 302.3L721.1 302.3L718.6 302.3L716.1 302.3L713.6 302.3L711 302.3L708.5 302.3L685.1 297.4Z M872.3 284.8L876.4 284.5L880.6 284.2L884.9 283.9L889.1 283.6L893.5 283.3L887.3 289.2L883 289.7L878.9 290.2L874.8 290.7L872.2 289.2L869.3 287.8Z M790.1 31.3L793.6 38.2L797.6 39L801.7 39.7L805.9 40.5L808.3 37.4L803.1 32L799.6 30.9L796.2 29.8Z" fill="#dccdc6" stroke="#dccdc6" stroke-width="2" stroke-linejoin="round" filter="url(#b1)"/>
<path d="M650.7 33.5L665 29.1L674.3 27.3L683.5 25.5L685.5 26L687.6 26.4L689.7 26.9L692 27.4L697.3 27.1L702.5 26.9L706.9 26.9L708.8 28L710.9 29.1L714.5 30.5L718.9 30.2L723.2 29.8L729.3 28.4L737.4 24.8L734.6 28.4L740.2 27.6L737.6 31.3L726.6 35.8L714.3 40.5L707.7 44.6L707.7 47.1L713.4 49.6L713.1 53.9L713.2 56.9L718.3 52.2L726.3 44.6L732.2 39L737.4 39L739.1 40.5L737.6 44.6L744.2 42.2L743.2 46.3L744.4 51.3L744.3 55.6L737.2 59.2L729.4 59.2L720.8 64.6L729.1 61.9L727.9 66.4L731.5 67.3L722.7 71L717.1 71L713.8 74.7L708.5 76.6L703.2 81.4L700.4 87.2L696.6 89.1L689.9 94L687.9 101L687 106L684.6 106L684.3 101L684 97L678 96.4L674 98.6L668 98L661.5 102L657.9 109L656.6 115.1L658.4 120.3L664.9 120.3L667.2 115.1L673.1 114.5L670.4 121.3L667.8 125.4L671.9 125.8L675.7 127.5L674.3 135.8L677.1 140L680.6 138.9L683.8 141L682.7 143.1L679.4 143.1L676.9 142L674.5 141L670.7 137.9L668.3 131.6L662.8 129.6L658.7 125.4L653.6 125.8L647.8 122.7L642.6 118.2L643.9 112.1L642.3 106L639.7 97L638.3 94L637.9 99L637.8 109L637.8 111.1L636.4 105L635.3 98L635.7 92.1L633 88.1L634.3 83.3L636 77.6L640.5 71.9L647.6 65.5L650.5 62.2L653.9 61L653 57.4L657.4 51.3L660.1 47.1L660.8 44.6L660.6 42.2L657.2 40.5L648.1 43L641.6 44.6L632.3 47.1L620.2 50.5L615.1 51.3L630.4 46.3L637.5 43.8L636.5 42.2L641.6 38.2L651.8 35.8L649.7 35.1Z M769 16.5L767.7 18.9L770.5 18.9L773.2 18.9L767.1 26.9L764.8 31.3L763 35.8L762.8 40.5L766.1 42.2L770.2 39L777.5 33.5L785.3 29.8L789.6 28.4L793.8 26.9L797.1 23.5L800.1 20.2L803.3 16.5L804.2 13.1L802.8 11.7L802 10.5L799.4 10.8L796.7 11.2L793.9 11.5L791.2 11.7L788.5 11.8L785.8 12L781.4 13.1L776.9 14.2Z M753.4 22.1L754 24.1L755.9 26.9L755.6 32L746.6 38.2L742.2 37.4L740.6 35.1L737.5 34.3L747.8 29.8L747.3 26.9L742.4 26.2L745.3 22.8L749.4 22.5Z M719.3 24.1L715.5 26.9L718.6 28.4L724 28.4L731.3 23.5L728.9 22.8L724.2 23.5Z M713.7 24.1L716.1 24.8L725.9 22.1L728.3 20.2L721.7 21.5Z M755.5 17.7L758.1 18L760.7 18.3L770.3 15.3L775.4 14.2L780.2 13.1L784.8 12L784.2 11.5L783.8 11L780.6 11.3L777.3 11.7L773.8 12L763.6 14.2Z M735.4 20.2L738.2 20.5L741.1 20.8L744.1 20.8L747 20.8L751.3 20.5L755.6 20.2L759.4 18.3L757 18.1L754.5 17.9L752.2 17.7L748.8 17.9L745.4 18.1L741.9 18.3Z M736.3 63.1L740.1 64.9L743.6 64.6L745.1 60.1L743.8 56.5L739.7 59.2Z M676.7 113.1L682.2 111.1L688.2 112.5L693.3 116.8L687.8 117.4L684.7 113.7L680 113.1Z M692 120.5L696 117.4L700.7 118.2L702 120.5L697.5 121.7L694.4 120.9Z M683.8 141L687.6 136.8L693.9 133.7L694.3 136.8L697.2 133.7L700.2 136.8L706.9 136.8L710.3 136.8L713.3 141L718 146.2L723.1 146.6L727.2 149.4L729.6 155.7L729.6 158.8L733 160.9L739 164L746.6 165.1L751.8 169.3L755.3 171.4L755.5 177.6L751.7 183.9L749.7 190.1L749.5 196.3L748 204.5L743.5 206.5L739.2 209.6L737.8 214.6L736.8 220.6L735 225.5L733.6 228.5L730.5 230.4L729.2 233.3L730.3 236.2L724.5 238.1L725.4 241.9L721.8 241.9L724.6 244.7L724.9 249.4L723.1 251.2L727.2 254.8L726.7 260.2L729.2 262.8L735.7 266.8L733.6 268L728 265.4L721.7 262L715.9 256.6L713.7 251.2L711.4 243.8L706.1 236.2L705.6 228.5L703.4 220.6L701.8 210.6L699.7 198.4L695.5 194.3L687.8 188L683.3 179.7L679.2 172.4L677.2 168.2L678.7 164L677.8 160.9L678.6 156.7L681.2 154.6L683.1 150.4L683.5 144.1Z M805.6 85.6L811.5 87.2L818.9 83.7L829.3 83.3L831.1 89.1L830.4 90.1L837.5 92.4L844 96.4L845.1 92.1L852.9 93.4L859.3 95L864.7 95L868.7 101L866.4 101L871.5 109L874.7 115.1L876.1 120.3L880.1 126.4L886.5 133.7L887.5 135.2L893.4 135.4L899.9 133.7L900.2 136.8L895.8 148.3L892.6 153.6L885.8 161.9L882.3 167.2L880.5 172.4L881.7 180.8L881.8 190.1L875.5 195.3L871.7 200.4L871.6 207.6L867.1 211.6L865.5 217.6L861.6 222.6L855.4 228.1L847.7 228.9L842.4 229.1L842.1 224.6L839.6 217.6L837.9 205.5L834.3 196.3L834.4 190.1L837.1 183.9L836.4 177.6L834.8 170.3L829.8 160.9L830.6 156.7L830.6 150.8L828.1 149.4L823.8 149.4L821.3 145.6L816.2 146.2L810.3 148.3L801.8 149.4L795.9 144.6L791.8 138.9L789.3 135.8L786.2 128.1L787.4 119.2L786.8 115.1L789.6 109L794 101.6L798.9 98L800 92.1Z M897.1 183.9L898.3 191.2L894.9 198.4L890.6 209.6L886.2 211.6L884.8 205.5L887.4 199.4L887.3 193.2L892.7 189.1Z M801.2 83.3L800.7 80L801.9 71.9L811.7 71L812.5 66.4L808.6 61.9L812.5 61.5L816.4 57.4L819.5 55.6L823.1 53L824.7 50.5L823.8 47.1L826.6 46.3L826.5 50.5L829.1 52.2L831.6 52.2L836.9 51.3L839.5 49.6L839.2 46.3L841.6 44.6L840.7 43.3L845.5 42.6L847.5 42.2L841.9 41.8L837.9 41.3L836.7 37.4L839.2 34.3L835.8 33.2L833 39L833 41.3L835 43L833.6 47.1L831.2 49.6L829.3 48.8L826.8 43.8L823.1 45.4L820.1 43.8L819.8 39L824.6 35.8L827.5 30.5L830.9 26.9L835.4 25.5L840.9 26.5L846.1 28.5L851.5 30.5L853.5 32L847.5 31.6L845.9 32L851.9 35.8L854.4 35.1L856.9 32.8L854.1 29.1L858.2 29.1L862.2 29.1L867 27.6L871.3 28.4L875.7 29.1L868.5 24.1L871.3 22.8L875 24.1L875.6 22.1L875.7 19.5L878.8 19.2L881.9 18.9L881 16.8L886.5 17.9L892.2 18.9L896.9 21.5L902.3 22.1L907.9 22.8L915.3 24.1L922.9 25.5L923.7 24.3L924.2 23.1L929.8 23.6L935.5 24.1L943.8 25.5L952.3 26.9L957.7 27.3L963.2 27.6L968.7 28L974.3 28.4L992.1 34.3L992.3 35.1L1000.3 39L1001.3 42.2L998.7 44.6L1006.9 48.8L1014.2 57.4L995.5 47.1L990.3 42.2L982.6 40.5L980.9 43L977.3 43.4L973.5 43.8L977.6 50.5L988.8 53.9L999.6 62.8L1002.3 71L997.6 71.9L999.1 75.7L1000.4 79.5L1007.3 85.2L1005.1 88.1L999.8 82.3L995.2 78.5L990.9 79.5L988.4 75.7L985.9 79.5L995.4 83.3L993.1 87.2L1001.4 94L1004.8 101L1003.5 108L998.9 112.1L993.5 115.1L990.7 114.1L988.1 118.2L996.7 131.6L994.3 136.8L991.5 140L991 136.8L982.3 130.6L981.6 135.8L984.4 144.1L990.2 155.7L985.9 152.5L980.8 142L979.5 133.7L975.8 124.4L971.1 125.4L968.4 118.2L962.5 112.1L958.9 113.5L955.9 117.2L950.2 124.4L947.5 127.5L948.8 135.8L945.3 142L942.4 137.9L937.1 125.4L933.3 115.1L929.3 115.1L924 110L920.6 106.4L912.7 106.6L905.2 105.4L903.8 103L900 103.6L893.2 98L889.8 97L893.8 104L896.8 107L898 109L902.7 105L905 108L910.7 112.1L908.8 119.2L905.4 123.3L900.7 125.4L895.3 129.6L889.7 132L886.9 131.6L884.8 124.4L878 115.1L873.6 107L869.5 101L868.3 98L867.7 94.4L868.4 90.1L868.1 85.2L862.8 84.8L859.1 84.6L855.1 83.3L853 79.5L855.8 75.7L859.7 73.8L865.6 74.7L873.4 74.7L870.1 71L865.8 68.2L865.9 64.2L862.1 67.3L860.6 69.1L858.5 66.4L855.1 66.4L854.1 71L854.2 74.7L851.7 76.2L848.8 76L848.9 81.4L847.9 84.3L846.1 82.3L842.4 76.6L842 73.8L836.8 71L832.9 67.3L831.8 70.1L835.7 73.8L841.1 77.2L839.2 79.5L837.9 81.4L837.1 77.6L832.2 74.7L829.2 71.9L826.5 69.3L822.9 71.9L818.7 71.9L818.8 74.7L815.2 76.6L813.8 80.4L811.5 83.7L806.3 85.2Z M654.7 28.4L652.5 30.5L650.8 32.8L641.7 35.1L636.9 34.3Z M807.4 59.2L816.4 57.1L814.5 53L812.1 48.8L812.2 46.3L810 44.6L807.7 45.4L808.5 50.5L810.8 52.2L808.9 53.9L808.2 56Z M802 55.6L807 55.6L807.3 50.5L805 50L802.3 52.2Z M791.1 33.5L792.3 35.8L796.1 36.6L800.7 34.3L800.2 32.3L795.2 32.8Z M821 15.3L824.3 17.7L828.2 16.5L830 14.2L827 13.9L824.1 13.6Z M857.9 25.5L862 25.5L859.1 20.2L859.1 17.7L857 18L854.8 18.3L854.9 21.5Z M1014.5 94L1013.3 89.1L1018.6 89.1L1023.8 86.2L1020.9 80.4L1016.2 75.7L1014.1 75.7L1018.8 81.4L1016.9 83.3L1013.3 86.2L1011.8 90.1Z M1012.2 73.8L1016.4 73.8L1016.9 71L1007.8 67.3Z M1006.7 66.4L1001.9 61L988.7 52.2L992.6 55.6Z M948.9 138.9L952.7 143.1L950.8 146.2L949.2 142Z M1007.7 106.6L1010 108L1010.3 113.1L1007.8 110Z M992.6 118.6L995.1 117.2L996.1 120.3L993.8 120.7Z M975.3 146.6L979.7 147.7L985.1 153.6L991.1 159.8L994.9 165.1L993.9 171.4L991.4 171.4L986.6 167.2L981.8 159.8L977.4 152.5Z M992.7 171.8L998.1 172L1002.3 172.4L1008 174.1L1007.6 177L1000.1 176.2L994.4 174.7Z M999.5 154.6L1003.8 154.6L1007 150.4L1012 144.1L1016.4 147.9L1014.9 156.7L1012.1 167.2L1006.2 166.8L1001.7 165.1L999.6 159.8Z M1016.9 170.3L1018.3 157.8L1026.7 155.7L1020 160.9L1022.9 169.3L1019 165.1Z M1037 160.9L1043.5 165.7L1053.8 164L1060.3 168.2L1064.2 171.4L1067.4 180.8L1061 175.6L1055.5 177.6L1048.3 175.6L1048.2 170.3L1040 167.2Z M1012.5 120.3L1015.9 121.3L1017.9 129.6L1021.7 131.6L1016.2 129.6L1013.4 125.4Z M1020.7 144.1L1025.8 138.9L1028.3 144.1L1027 146.6Z M998.8 204.5L994.9 212.6L992.6 221.6L988 229.1L991.6 230.4L1000.6 228.3L1007.3 225.2L1012.7 224L1016.8 223.6L1018.9 226.1L1018.2 230L1023.9 226.5L1020.8 231.4L1020.4 235.3L1021.2 236.8L1025.6 236.8L1028.3 237.8L1035.5 234.9L1042.8 228.5L1052.2 220.6L1058.2 212.6L1057.9 205.5L1057.2 200.4L1054 198.4L1056.4 190.1L1053.7 188L1053.9 181.4L1050.9 187L1046.9 194.9L1044.6 195.3L1041.7 191.8L1041.5 187L1043.2 183.9L1036.8 182.4L1032 184.9L1029.9 189.7L1026.2 188L1022.1 190.7L1016.4 194.9L1013.6 199L1005.2 201.9Z M1021.4 241.4L1026.2 241.6L1021.4 245.7L1018.3 246.6L1018.7 244.7Z M1074.6 229.5L1074.8 233.3L1076.3 235.7L1070.4 239.1L1062.8 242.9L1067.1 239.1L1066.2 238.7L1071.5 235.3Z M1061.9 241L1061.3 243.2L1054.7 246.6L1047.3 250.3L1041.7 252.3L1039.9 251.2L1046.9 247.5L1054.8 244.7Z M702.4 301.1L704.9 301.1L707.4 301.1L709.9 301.1L712.3 301.1L714.8 301.1L715.4 300.5L716.1 299.9L714.8 298.7L713.9 297.4L715.9 297.2L718 296.9L720.2 296.7L722.4 296.4L724.7 296.1L726.6 295.7L728.7 295.3L730.8 294.9L733 294.5L735.3 294.1L738.7 294.3L742.1 294.4L745.5 294.5L748.9 294.7L752.3 294.8L754 293.5L752.4 287.8L752.6 282.5L756.3 281L758.2 286.3L764.5 293.5L771.4 297.4L776.7 298.7L781.7 299.9L786.5 301.1L789.6 301.1L792.7 301.1L794.3 299.3L796.5 297.4L799.4 295.8L802.6 294.1L806.3 293L810.3 291.8L814.5 290.7L818.8 290.4L823.2 290.2L827.6 290L832.1 289.7L836.6 289.5L841.1 289.2L845.8 288.9L850.5 288.5L855.9 287.4L861.4 286.3L865.9 286.5L870.4 286.8L874 287.6L877.5 288.5L880.1 290L889.6 286.3L894.8 286L900.1 285.6L905.4 285.2L910.8 284.8L915.6 284.8L920.4 284.8L924.5 285.2L928.6 285.6L934.1 285.2L939.7 284.8L943.7 285.2L947.6 285.6L949.7 286.7L951.5 287.8L952.1 289.2L952.3 290.7L952.1 292.1L951.6 293.5L933.1 297.4L917.3 301.1L920.4 301.1L923.5 301.1L926.6 301.1L900.6 305.6L869.1 309.3L814.5 311.8L814.5 311.8L814.5 311.8L814.5 311.8L814.5 311.8L814.5 311.8L814.5 311.8L814.5 311.8L814.5 311.8L814.5 311.8L814.5 311.8L814.5 311.8L814.5 311.8L814.5 311.8L814.5 311.8L814.5 311.8L814.5 311.8L814.5 311.8L814.5 311.8L814.5 311.8L814.5 311.8L814.5 311.8L814.5 311.8L814.5 311.8L814.5 311.8L814.5 311.8L814.5 311.8L814.5 311.8L814.5 311.8L814.5 311.8L814.5 311.8L814.5 311.8L814.5 311.8L814.5 311.8L814.5 311.8L814.5 311.8L814.5 311.8L814.5 311.8L814.5 311.8L814.5 311.8L814.5 311.8L814.5 311.8L814.5 311.8L814.5 311.8L814.5 311.8L814.5 311.8L814.5 311.8L814.5 311.8L814.5 311.8L814.5 311.8L814.5 311.8L814.5 311.8L814.5 311.8L814.5 311.8L814.5 311.8L814.5 311.8L814.5 311.8L814.5 311.8L814.5 311.8L814.5 311.8L814.5 311.8L814.5 311.8L814.5 311.8L814.5 311.8L814.5 311.8L814.5 311.8L814.5 311.8L814.5 311.8L814.5 311.8L814.5 311.8L814.5 311.8L814.5 311.8L814.5 311.8L814.5 311.8L814.5 311.8L814.5 311.8L814.5 311.8L814.5 311.8L814.5 311.8L814.5 311.8L814.5 311.8L814.5 311.8L814.5 311.8L814.5 311.8L814.5 311.8L814.5 311.8L814.5 311.8L814.5 311.8L814.5 311.8L814.5 311.8L814.5 311.8L759.9 309.3L728.4 305.6Z" fill="#dccdc6" stroke="#dccdc6" stroke-width="3.6" stroke-linejoin="round" filter="url(#b1)"/>
<path d="M650.7 33.5L665 29.1L674.3 27.3L683.5 25.5L685.5 26L687.6 26.4L689.7 26.9L692 27.4L697.3 27.1L702.5 26.9L706.9 26.9L708.8 28L710.9 29.1L714.5 30.5L718.9 30.2L723.2 29.8L729.3 28.4L737.4 24.8L734.6 28.4L740.2 27.6L737.6 31.3L726.6 35.8L714.3 40.5L707.7 44.6L707.7 47.1L713.4 49.6L713.1 53.9L713.2 56.9L718.3 52.2L726.3 44.6L732.2 39L737.4 39L739.1 40.5L737.6 44.6L744.2 42.2L743.2 46.3L744.4 51.3L744.3 55.6L737.2 59.2L729.4 59.2L720.8 64.6L729.1 61.9L727.9 66.4L731.5 67.3L722.7 71L717.1 71L713.8 74.7L708.5 76.6L703.2 81.4L700.4 87.2L696.6 89.1L689.9 94L687.9 101L687 106L684.6 106L684.3 101L684 97L678 96.4L674 98.6L668 98L661.5 102L657.9 109L656.6 115.1L658.4 120.3L664.9 120.3L667.2 115.1L673.1 114.5L670.4 121.3L667.8 125.4L671.9 125.8L675.7 127.5L674.3 135.8L677.1 140L680.6 138.9L683.8 141L682.7 143.1L679.4 143.1L676.9 142L674.5 141L670.7 137.9L668.3 131.6L662.8 129.6L658.7 125.4L653.6 125.8L647.8 122.7L642.6 118.2L643.9 112.1L642.3 106L639.7 97L638.3 94L637.9 99L637.8 109L637.8 111.1L636.4 105L635.3 98L635.7 92.1L633 88.1L634.3 83.3L636 77.6L640.5 71.9L647.6 65.5L650.5 62.2L653.9 61L653 57.4L657.4 51.3L660.1 47.1L660.8 44.6L660.6 42.2L657.2 40.5L648.1 43L641.6 44.6L632.3 47.1L620.2 50.5L615.1 51.3L630.4 46.3L637.5 43.8L636.5 42.2L641.6 38.2L651.8 35.8L649.7 35.1Z M769 16.5L767.7 18.9L770.5 18.9L773.2 18.9L767.1 26.9L764.8 31.3L763 35.8L762.8 40.5L766.1 42.2L770.2 39L777.5 33.5L785.3 29.8L789.6 28.4L793.8 26.9L797.1 23.5L800.1 20.2L803.3 16.5L804.2 13.1L802.8 11.7L802 10.5L799.4 10.8L796.7 11.2L793.9 11.5L791.2 11.7L788.5 11.8L785.8 12L781.4 13.1L776.9 14.2Z M753.4 22.1L754 24.1L755.9 26.9L755.6 32L746.6 38.2L742.2 37.4L740.6 35.1L737.5 34.3L747.8 29.8L747.3 26.9L742.4 26.2L745.3 22.8L749.4 22.5Z M719.3 24.1L715.5 26.9L718.6 28.4L724 28.4L731.3 23.5L728.9 22.8L724.2 23.5Z M713.7 24.1L716.1 24.8L725.9 22.1L728.3 20.2L721.7 21.5Z M755.5 17.7L758.1 18L760.7 18.3L770.3 15.3L775.4 14.2L780.2 13.1L784.8 12L784.2 11.5L783.8 11L780.6 11.3L777.3 11.7L773.8 12L763.6 14.2Z M735.4 20.2L738.2 20.5L741.1 20.8L744.1 20.8L747 20.8L751.3 20.5L755.6 20.2L759.4 18.3L757 18.1L754.5 17.9L752.2 17.7L748.8 17.9L745.4 18.1L741.9 18.3Z M736.3 63.1L740.1 64.9L743.6 64.6L745.1 60.1L743.8 56.5L739.7 59.2Z M676.7 113.1L682.2 111.1L688.2 112.5L693.3 116.8L687.8 117.4L684.7 113.7L680 113.1Z M692 120.5L696 117.4L700.7 118.2L702 120.5L697.5 121.7L694.4 120.9Z M683.8 141L687.6 136.8L693.9 133.7L694.3 136.8L697.2 133.7L700.2 136.8L706.9 136.8L710.3 136.8L713.3 141L718 146.2L723.1 146.6L727.2 149.4L729.6 155.7L729.6 158.8L733 160.9L739 164L746.6 165.1L751.8 169.3L755.3 171.4L755.5 177.6L751.7 183.9L749.7 190.1L749.5 196.3L748 204.5L743.5 206.5L739.2 209.6L737.8 214.6L736.8 220.6L735 225.5L733.6 228.5L730.5 230.4L729.2 233.3L730.3 236.2L724.5 238.1L725.4 241.9L721.8 241.9L724.6 244.7L724.9 249.4L723.1 251.2L727.2 254.8L726.7 260.2L729.2 262.8L735.7 266.8L733.6 268L728 265.4L721.7 262L715.9 256.6L713.7 251.2L711.4 243.8L706.1 236.2L705.6 228.5L703.4 220.6L701.8 210.6L699.7 198.4L695.5 194.3L687.8 188L683.3 179.7L679.2 172.4L677.2 168.2L678.7 164L677.8 160.9L678.6 156.7L681.2 154.6L683.1 150.4L683.5 144.1Z M805.6 85.6L811.5 87.2L818.9 83.7L829.3 83.3L831.1 89.1L830.4 90.1L837.5 92.4L844 96.4L845.1 92.1L852.9 93.4L859.3 95L864.7 95L868.7 101L866.4 101L871.5 109L874.7 115.1L876.1 120.3L880.1 126.4L886.5 133.7L887.5 135.2L893.4 135.4L899.9 133.7L900.2 136.8L895.8 148.3L892.6 153.6L885.8 161.9L882.3 167.2L880.5 172.4L881.7 180.8L881.8 190.1L875.5 195.3L871.7 200.4L871.6 207.6L867.1 211.6L865.5 217.6L861.6 222.6L855.4 228.1L847.7 228.9L842.4 229.1L842.1 224.6L839.6 217.6L837.9 205.5L834.3 196.3L834.4 190.1L837.1 183.9L836.4 177.6L834.8 170.3L829.8 160.9L830.6 156.7L830.6 150.8L828.1 149.4L823.8 149.4L821.3 145.6L816.2 146.2L810.3 148.3L801.8 149.4L795.9 144.6L791.8 138.9L789.3 135.8L786.2 128.1L787.4 119.2L786.8 115.1L789.6 109L794 101.6L798.9 98L800 92.1Z M897.1 183.9L898.3 191.2L894.9 198.4L890.6 209.6L886.2 211.6L884.8 205.5L887.4 199.4L887.3 193.2L892.7 189.1Z M801.2 83.3L800.7 80L801.9 71.9L811.7 71L812.5 66.4L808.6 61.9L812.5 61.5L816.4 57.4L819.5 55.6L823.1 53L824.7 50.5L823.8 47.1L826.6 46.3L826.5 50.5L829.1 52.2L831.6 52.2L836.9 51.3L839.5 49.6L839.2 46.3L841.6 44.6L840.7 43.3L845.5 42.6L847.5 42.2L841.9 41.8L837.9 41.3L836.7 37.4L839.2 34.3L835.8 33.2L833 39L833 41.3L835 43L833.6 47.1L831.2 49.6L829.3 48.8L826.8 43.8L823.1 45.4L820.1 43.8L819.8 39L824.6 35.8L827.5 30.5L830.9 26.9L835.4 25.5L840.9 26.5L846.1 28.5L851.5 30.5L853.5 32L847.5 31.6L845.9 32L851.9 35.8L854.4 35.1L856.9 32.8L854.1 29.1L858.2 29.1L862.2 29.1L867 27.6L871.3 28.4L875.7 29.1L868.5 24.1L871.3 22.8L875 24.1L875.6 22.1L875.7 19.5L878.8 19.2L881.9 18.9L881 16.8L886.5 17.9L892.2 18.9L896.9 21.5L902.3 22.1L907.9 22.8L915.3 24.1L922.9 25.5L923.7 24.3L924.2 23.1L929.8 23.6L935.5 24.1L943.8 25.5L952.3 26.9L957.7 27.3L963.2 27.6L968.7 28L974.3 28.4L992.1 34.3L992.3 35.1L1000.3 39L1001.3 42.2L998.7 44.6L1006.9 48.8L1014.2 57.4L995.5 47.1L990.3 42.2L982.6 40.5L980.9 43L977.3 43.4L973.5 43.8L977.6 50.5L988.8 53.9L999.6 62.8L1002.3 71L997.6 71.9L999.1 75.7L1000.4 79.5L1007.3 85.2L1005.1 88.1L999.8 82.3L995.2 78.5L990.9 79.5L988.4 75.7L985.9 79.5L995.4 83.3L993.1 87.2L1001.4 94L1004.8 101L1003.5 108L998.9 112.1L993.5 115.1L990.7 114.1L988.1 118.2L996.7 131.6L994.3 136.8L991.5 140L991 136.8L982.3 130.6L981.6 135.8L984.4 144.1L990.2 155.7L985.9 152.5L980.8 142L979.5 133.7L975.8 124.4L971.1 125.4L968.4 118.2L962.5 112.1L958.9 113.5L955.9 117.2L950.2 124.4L947.5 127.5L948.8 135.8L945.3 142L942.4 137.9L937.1 125.4L933.3 115.1L929.3 115.1L924 110L920.6 106.4L912.7 106.6L905.2 105.4L903.8 103L900 103.6L893.2 98L889.8 97L893.8 104L896.8 107L898 109L902.7 105L905 108L910.7 112.1L908.8 119.2L905.4 123.3L900.7 125.4L895.3 129.6L889.7 132L886.9 131.6L884.8 124.4L878 115.1L873.6 107L869.5 101L868.3 98L867.7 94.4L868.4 90.1L868.1 85.2L862.8 84.8L859.1 84.6L855.1 83.3L853 79.5L855.8 75.7L859.7 73.8L865.6 74.7L873.4 74.7L870.1 71L865.8 68.2L865.9 64.2L862.1 67.3L860.6 69.1L858.5 66.4L855.1 66.4L854.1 71L854.2 74.7L851.7 76.2L848.8 76L848.9 81.4L847.9 84.3L846.1 82.3L842.4 76.6L842 73.8L836.8 71L832.9 67.3L831.8 70.1L835.7 73.8L841.1 77.2L839.2 79.5L837.9 81.4L837.1 77.6L832.2 74.7L829.2 71.9L826.5 69.3L822.9 71.9L818.7 71.9L818.8 74.7L815.2 76.6L813.8 80.4L811.5 83.7L806.3 85.2Z M654.7 28.4L652.5 30.5L650.8 32.8L641.7 35.1L636.9 34.3Z M807.4 59.2L816.4 57.1L814.5 53L812.1 48.8L812.2 46.3L810 44.6L807.7 45.4L808.5 50.5L810.8 52.2L808.9 53.9L808.2 56Z M802 55.6L807 55.6L807.3 50.5L805 50L802.3 52.2Z M791.1 33.5L792.3 35.8L796.1 36.6L800.7 34.3L800.2 32.3L795.2 32.8Z M821 15.3L824.3 17.7L828.2 16.5L830 14.2L827 13.9L824.1 13.6Z M857.9 25.5L862 25.5L859.1 20.2L859.1 17.7L857 18L854.8 18.3L854.9 21.5Z M1014.5 94L1013.3 89.1L1018.6 89.1L1023.8 86.2L1020.9 80.4L1016.2 75.7L1014.1 75.7L1018.8 81.4L1016.9 83.3L1013.3 86.2L1011.8 90.1Z M1012.2 73.8L1016.4 73.8L1016.9 71L1007.8 67.3Z M1006.7 66.4L1001.9 61L988.7 52.2L992.6 55.6Z M948.9 138.9L952.7 143.1L950.8 146.2L949.2 142Z M1007.7 106.6L1010 108L1010.3 113.1L1007.8 110Z M992.6 118.6L995.1 117.2L996.1 120.3L993.8 120.7Z M975.3 146.6L979.7 147.7L985.1 153.6L991.1 159.8L994.9 165.1L993.9 171.4L991.4 171.4L986.6 167.2L981.8 159.8L977.4 152.5Z M992.7 171.8L998.1 172L1002.3 172.4L1008 174.1L1007.6 177L1000.1 176.2L994.4 174.7Z M999.5 154.6L1003.8 154.6L1007 150.4L1012 144.1L1016.4 147.9L1014.9 156.7L1012.1 167.2L1006.2 166.8L1001.7 165.1L999.6 159.8Z M1016.9 170.3L1018.3 157.8L1026.7 155.7L1020 160.9L1022.9 169.3L1019 165.1Z M1037 160.9L1043.5 165.7L1053.8 164L1060.3 168.2L1064.2 171.4L1067.4 180.8L1061 175.6L1055.5 177.6L1048.3 175.6L1048.2 170.3L1040 167.2Z M1012.5 120.3L1015.9 121.3L1017.9 129.6L1021.7 131.6L1016.2 129.6L1013.4 125.4Z M1020.7 144.1L1025.8 138.9L1028.3 144.1L1027 146.6Z M998.8 204.5L994.9 212.6L992.6 221.6L988 229.1L991.6 230.4L1000.6 228.3L1007.3 225.2L1012.7 224L1016.8 223.6L1018.9 226.1L1018.2 230L1023.9 226.5L1020.8 231.4L1020.4 235.3L1021.2 236.8L1025.6 236.8L1028.3 237.8L1035.5 234.9L1042.8 228.5L1052.2 220.6L1058.2 212.6L1057.9 205.5L1057.2 200.4L1054 198.4L1056.4 190.1L1053.7 188L1053.9 181.4L1050.9 187L1046.9 194.9L1044.6 195.3L1041.7 191.8L1041.5 187L1043.2 183.9L1036.8 182.4L1032 184.9L1029.9 189.7L1026.2 188L1022.1 190.7L1016.4 194.9L1013.6 199L1005.2 201.9Z M1021.4 241.4L1026.2 241.6L1021.4 245.7L1018.3 246.6L1018.7 244.7Z M1074.6 229.5L1074.8 233.3L1076.3 235.7L1070.4 239.1L1062.8 242.9L1067.1 239.1L1066.2 238.7L1071.5 235.3Z M1061.9 241L1061.3 243.2L1054.7 246.6L1047.3 250.3L1041.7 252.3L1039.9 251.2L1046.9 247.5L1054.8 244.7Z M702.4 301.1L704.9 301.1L707.4 301.1L709.9 301.1L712.3 301.1L714.8 301.1L715.4 300.5L716.1 299.9L714.8 298.7L713.9 297.4L715.9 297.2L718 296.9L720.2 296.7L722.4 296.4L724.7 296.1L726.6 295.7L728.7 295.3L730.8 294.9L733 294.5L735.3 294.1L738.7 294.3L742.1 294.4L745.5 294.5L748.9 294.7L752.3 294.8L754 293.5L752.4 287.8L752.6 282.5L756.3 281L758.2 286.3L764.5 293.5L771.4 297.4L776.7 298.7L781.7 299.9L786.5 301.1L789.6 301.1L792.7 301.1L794.3 299.3L796.5 297.4L799.4 295.8L802.6 294.1L806.3 293L810.3 291.8L814.5 290.7L818.8 290.4L823.2 290.2L827.6 290L832.1 289.7L836.6 289.5L841.1 289.2L845.8 288.9L850.5 288.5L855.9 287.4L861.4 286.3L865.9 286.5L870.4 286.8L874 287.6L877.5 288.5L880.1 290L889.6 286.3L894.8 286L900.1 285.6L905.4 285.2L910.8 284.8L915.6 284.8L920.4 284.8L924.5 285.2L928.6 285.6L934.1 285.2L939.7 284.8L943.7 285.2L947.6 285.6L949.7 286.7L951.5 287.8L952.1 289.2L952.3 290.7L952.1 292.1L951.6 293.5L933.1 297.4L917.3 301.1L920.4 301.1L923.5 301.1L926.6 301.1L900.6 305.6L869.1 309.3L814.5 311.8L814.5 311.8L814.5 311.8L814.5 311.8L814.5 311.8L814.5 311.8L814.5 311.8L814.5 311.8L814.5 311.8L814.5 311.8L814.5 311.8L814.5 311.8L814.5 311.8L814.5 311.8L814.5 311.8L814.5 311.8L814.5 311.8L814.5 311.8L814.5 311.8L814.5 311.8L814.5 311.8L814.5 311.8L814.5 311.8L814.5 311.8L814.5 311.8L814.5 311.8L814.5 311.8L814.5 311.8L814.5 311.8L814.5 311.8L814.5 311.8L814.5 311.8L814.5 311.8L814.5 311.8L814.5 311.8L814.5 311.8L814.5 311.8L814.5 311.8L814.5 311.8L814.5 311.8L814.5 311.8L814.5 311.8L814.5 311.8L814.5 311.8L814.5 311.8L814.5 311.8L814.5 311.8L814.5 311.8L814.5 311.8L814.5 311.8L814.5 311.8L814.5 311.8L814.5 311.8L814.5 311.8L814.5 311.8L814.5 311.8L814.5 311.8L814.5 311.8L814.5 311.8L814.5 311.8L814.5 311.8L814.5 311.8L814.5 311.8L814.5 311.8L814.5 311.8L814.5 311.8L814.5 311.8L814.5 311.8L814.5 311.8L814.5 311.8L814.5 311.8L814.5 311.8L814.5 311.8L814.5 311.8L814.5 311.8L814.5 311.8L814.5 311.8L814.5 311.8L814.5 311.8L814.5 311.8L814.5 311.8L814.5 311.8L814.5 311.8L814.5 311.8L814.5 311.8L814.5 311.8L814.5 311.8L814.5 311.8L814.5 311.8L814.5 311.8L814.5 311.8L759.9 309.3L728.4 305.6Z" fill="#5f5f5f"/>
<path d="M878.8 68.2L882.7 64.6L887 68.2L885.8 71.9L891.5 77.6L894.3 83.3L888.1 82.3L885 77.6L880.9 71.9Z" fill="#d6c9c8"/>
</g></g>
<line x1="616.5" y1="42.2" x2="1011.5" y2="42.2" stroke="#000" stroke-width="1.5"/>
<line x1="538" y1="95.8" x2="1094.5" y2="95.8" stroke="#000" stroke-width="1.5"/>
<line x1="511" y1="158.5" x2="1124.2" y2="158.5" stroke="#000" stroke-width="1.5"/>
<line x1="533.5" y1="219.2" x2="1094.9" y2="219.2" stroke="#000" stroke-width="1.5"/>
<line x1="617" y1="275.8" x2="1011.2" y2="275.8" stroke="#000" stroke-width="1.5"/>
<g clip-path="url(#crop)">
<ellipse cx="814.5" cy="158.8" rx="305.7" ry="153" fill="none" stroke="#fff" stroke-width="1.2" stroke-dasharray="1.5 1.5" opacity="0.8"/>
<path d="M714.8 13.6L709.4 14.5L704.3 15.5L699.3 16.5L694.4 17.5L689.6 18.5L685 19.6L680.5 20.7L676.1 21.8L671.7 22.9L667.5 24L663.4 25.2L659.3 26.4 M616.4 41.6L613.3 43L610.2 44.3L607.1 45.7L604.2 47.1L601.2 48.5L598.4 49.9L595.5 51.4L592.8 52.8L590 54.2L587.4 55.7L584.8 57.2L582.2 58.7 M555.1 77.1L553.1 78.7L551.2 80.3L549.3 81.9L547.5 83.5L545.7 85.1L544 86.7L542.3 88.4L540.6 90L539 91.6L537.4 93.3L535.9 94.9L534.4 96.6 M519.8 116.9L518.9 118.6L517.9 120.3L517.1 122.1L516.3 123.8L515.5 125.5L514.7 127.2L514 129L513.4 130.7L512.7 132.5L512.1 134.2L511.6 136L511.1 137.7 M508.2 158.8L508.2 160.6L508.3 162.3L508.4 164.1L508.5 165.8L508.7 167.6L508.9 169.4L509.2 171.1L509.5 172.9L509.8 174.6L510.2 176.4L510.6 178.1L511.1 179.9 M519.8 200.7L520.8 202.4L521.8 204.1L522.9 205.8L524 207.5L525.2 209.2L526.4 210.9L527.6 212.6L528.9 214.3L530.2 216L531.6 217.7L533 219.3L534.4 221 M555.1 240.5L557.1 242.1L559.1 243.7L561.2 245.2L563.4 246.8L565.6 248.3L567.8 249.9L570.1 251.4L572.4 252.9L574.8 254.5L577.2 256L579.7 257.5L582.2 258.9 M616.4 276L619.7 277.3L622.9 278.7L626.3 280L629.7 281.3L633.1 282.6L636.7 283.9L640.2 285.1L643.9 286.4L647.7 287.6L651.5 288.9L655.4 290.1L659.3 291.2 M714.8 304L716.5 304.3L718.3 304.6L720 304.9L721.8 305.2L723.6 305.5L725.5 305.8L727.3 306.1L729.2 306.3L731.1 306.6L733.1 306.9L735 307.1L737 307.4 M914.2 13.6L919.6 14.5L924.7 15.5L929.7 16.5L934.6 17.5L939.4 18.5L944 19.6L948.5 20.7L952.9 21.8L957.3 22.9L961.5 24L965.6 25.2L969.7 26.4 M1012.6 41.6L1015.7 43L1018.8 44.3L1021.9 45.7L1024.8 47.1L1027.8 48.5L1030.6 49.9L1033.5 51.4L1036.2 52.8L1039 54.2L1041.6 55.7L1044.2 57.2L1046.8 58.7 M1073.9 77.1L1075.9 78.7L1077.8 80.3L1079.7 81.9L1081.5 83.5L1083.3 85.1L1085 86.7L1086.7 88.4L1088.4 90L1090 91.6L1091.6 93.3L1093.1 94.9L1094.6 96.6 M1109.2 116.9L1110.1 118.6L1111.1 120.3L1111.9 122.1L1112.7 123.8L1113.5 125.5L1114.3 127.2L1115 129L1115.6 130.7L1116.3 132.5L1116.9 134.2L1117.4 136L1117.9 137.7 M1120.8 158.8L1120.8 160.6L1120.7 162.3L1120.6 164.1L1120.5 165.8L1120.3 167.6L1120.1 169.4L1119.8 171.1L1119.5 172.9L1119.2 174.6L1118.8 176.4L1118.4 178.1L1117.9 179.9 M1109.2 200.7L1108.2 202.4L1107.2 204.1L1106.1 205.8L1105 207.5L1103.8 209.2L1102.6 210.9L1101.4 212.6L1100.1 214.3L1098.8 216L1097.4 217.7L1096 219.3L1094.6 221 M1073.9 240.5L1071.9 242.1L1069.9 243.7L1067.8 245.2L1065.6 246.8L1063.4 248.3L1061.2 249.9L1058.9 251.4L1056.6 252.9L1054.2 254.5L1051.8 256L1049.3 257.5L1046.8 258.9 M1012.6 276L1009.3 277.3L1006.1 278.7L1002.7 280L999.3 281.3L995.9 282.6L992.3 283.9L988.8 285.1L985.1 286.4L981.3 287.6L977.5 288.9L973.6 290.1L969.7 291.2 M914.2 304L912.5 304.3L910.7 304.6L909 304.9L907.2 305.2L905.4 305.5L903.5 305.8L901.7 306.1L899.8 306.3L897.9 306.6L895.9 306.9L894 307.1L892 307.4" fill="none" stroke="#000" stroke-width="3.4"/>
</g>
<line x1="735" y1="306.9" x2="892" y2="306.9" stroke="#000" stroke-width="1.6" stroke-dasharray="2.2 1.8"/>
<circle cx="600.8" cy="148.5" r="8.1" fill="#c9c9c9"/>
<circle cx="816.4" cy="217.6" r="7.8" fill="#000"/>
<polygon points="784.6,257.1 786.9,264 794.2,264.1 788.3,268.4 790.5,275.4 784.6,271.1 778.7,275.4 780.9,268.4 775,264.1 782.3,264" fill="#e2281e"/>
<text x="553.69" y="49.9" font-size="22.8" fill="#000" stroke="#000" stroke-width="0.35" textLength="39.93" lengthAdjust="spacingAndGlyphs">60°</text>
<text x="484.69" y="102.7" font-size="22.8" fill="#000" stroke="#000" stroke-width="0.35" textLength="39.73" lengthAdjust="spacingAndGlyphs">30°</text>
<text x="473.04" y="165.9" font-size="22.8" fill="#000" stroke="#000" stroke-width="0.35" textLength="26.43" lengthAdjust="spacingAndGlyphs">0°</text>
<text x="460.79" y="226" font-size="22.8" fill="#000" stroke="#000" stroke-width="0.35" textLength="51.22" lengthAdjust="spacingAndGlyphs">−30°</text>
<text x="523.56" y="282.8" font-size="22.8" fill="#000" stroke="#000" stroke-width="0.35" textLength="52.48" lengthAdjust="spacingAndGlyphs">−60°</text>
<text x="607.92" y="142.9" font-size="22.8" fill="#000" stroke="#000" stroke-width="0.35" textLength="45.67" lengthAdjust="spacingAndGlyphs">1218</text>
<text x="787.05" y="246" font-size="22.8" fill="#000" stroke="#000" stroke-width="0.35" textLength="50.66" lengthAdjust="spacingAndGlyphs">1264</text>
<text x="803.95" y="272.1" font-size="22.8" fill="#e2281e" stroke="#e2281e" stroke-width="0.35" textLength="42.26" lengthAdjust="spacingAndGlyphs">699</text>
</g>
<g id="bands" fill="#ffecda">
<rect x="221" y="323.3" width="49.4" height="1848.2" rx="1.5"/>
<rect x="355" y="324" width="49.8" height="1847.5" rx="1.5"/>
<rect x="492" y="323.3" width="49.8" height="1848.2" rx="1.5"/>
<rect x="610" y="327.2" width="49.8" height="1846.8" rx="1.5"/>
<rect x="977.6" y="317.3" width="50.2" height="1853.2" rx="1.5"/>
<rect x="1319.2" y="326.2" width="50" height="1845.6" rx="1.5"/>
</g>
<g id="panel-a">
<g style="mix-blend-mode:multiply">
<polygon fill="#fdd5cb" points="183.7,516.6 209.3,481.1 233.6,370.4 277.1,439.6 320,492.1 349.2,439.6 370.8,359.8 441.3,554.2 459.5,525.9 477.1,472.8 491.1,501.7 520.3,468.8 544.9,596.7 563.1,483.4 583.1,465.1 610.3,439.6 652.2,492.1 673.8,503.3 763.8,469.8 763.8,703.7 673.8,714 652.2,686.4 610.3,686.4 583.1,654.2 563.1,686.4 544.9,773.5 520.3,676.1 491.1,698.1 477.1,670.5 459.5,698.7 441.3,759.5 370.8,589.7 349.2,621.6 320,696.1 277.1,672.1 233.6,621.6 209.3,680.4 183.7,728.6"/>
<polygon fill="#fdd5cb" points="1010.2,510.3 1045.4,449.5 1077,498.4 1104.5,547.5 1130.5,490.7 1160.4,526.6 1208.9,539.9 1233.8,516.6 1255.1,536.6 1271.7,460.8 1291.3,511.7 1319.2,430.9 1357.4,529.3 1357.4,697.1 1319.2,645.6 1291.3,678.8 1271.7,652.2 1255.1,715.3 1233.8,761.9 1208.9,797.7 1160.4,721.3 1130.5,708.7 1104.5,752.5 1077,739.3 1045.4,696.1 1010.2,738.6"/>
<polygon fill="#fba68f" points="183.7,569.1 209.3,532.6 233.6,433.6 277.1,498.7 320,542.6 349.2,486.1 370.8,414.6 441.3,603 459.5,569.1 477.1,522 491.1,550.9 520.3,520 544.9,642.2 563.1,534.6 583.1,511.3 610.3,501 652.2,540.2 673.8,556.2 763.8,528.3 763.8,645.2 673.8,661.2 652.2,637.9 610.3,624.3 583.1,606 563.1,634.9 544.9,728.6 520.3,624 491.1,649.5 477.1,620.6 459.5,655.5 441.3,705.4 370.8,530.3 349.2,575.8 320,644.9 277.1,612.3 233.6,559.2 209.3,632.3 183.7,675.5"/>
<polygon fill="#fba68f" points="1010.2,567.5 1045.4,510.7 1077,558.5 1104.5,599 1130.5,544.9 1160.4,573.1 1208.9,602 1233.8,576.8 1255.1,581.8 1271.7,508.3 1291.3,553.2 1319.2,484.4 1357.4,570.8 1357.4,655.5 1319.2,591.4 1291.3,637.3 1271.7,604 1255.1,671.5 1233.8,698.7 1208.9,731 1160.4,671.5 1130.5,654.5 1104.5,701.4 1077,679.8 1045.4,634.6 1010.2,681.4"/>
</g>
<polygon fill="#ffd2ba" points="491.1,501.7 520.3,468.8 520.3,676.1 491.1,698.1"/>
<polygon fill="#fca486" points="491.1,550.9 520.3,520 520.3,624 491.1,649.5"/>
<clipPath id="pinkclip"><rect x="404.8" y="300" width="700" height="600"/></clipPath>
<g clip-path="url(#pinkclip)">
<polygon fill="#ffcccb" points="370.8,359.8 441.3,554.2 441.3,759.5 370.8,589.7"/>
<polygon fill="#ff9f92" points="370.8,414.6 441.3,603 441.3,705.4 370.8,530.3"/>
<polygon fill="#ffcccb" points="441.3,554.2 459.5,525.9 459.5,698.7 441.3,759.5"/>
<polygon fill="#ff9f92" points="441.3,603 459.5,569.1 459.5,655.5 441.3,705.4"/>
<polygon fill="#ffcccb" points="520.3,468.8 544.9,596.7 544.9,773.5 520.3,676.1"/>
<polygon fill="#ff9f92" points="520.3,520 544.9,642.2 544.9,728.6 520.3,624"/>
<polygon fill="#ffcccb" points="544.9,596.7 563.1,483.4 563.1,686.4 544.9,773.5"/>
<polygon fill="#ff9f92" points="544.9,642.2 563.1,534.6 563.1,634.9 544.9,728.6"/>
</g>
<path d="M209.3 482.1V679.4M233.6 371.4V620.6M277.1 440.6V671.1M320 493.1V695.1M349.2 440.6V620.6M370.8 360.8V588.7M441.3 555.2V758.5M459.5 526.9V697.7M477.1 473.8V669.5M491.1 502.7V697.1M520.3 469.8V675.1M544.9 597.7V772.5M563.1 484.4V685.4M583.1 466.1V653.2M610.3 440.6V685.4M652.2 493.1V685.4M673.8 504.3V713M1045.4 450.5V695.1M1077 499.4V738.3M1104.5 548.5V751.5M1130.5 491.7V707.7M1160.4 527.6V720.3M1208.9 540.9V796.7M1233.8 517.6V760.9M1255.1 537.6V714.3M1271.7 461.8V651.2M1291.3 512.7V677.8M1319.2 431.9V644.6" fill="none" stroke="#fff" stroke-width="0.7" opacity="0.3"/>
<polyline fill="none" stroke="#6666cc" stroke-width="6.4" stroke-linejoin="round" stroke-linecap="round" points="183.7,622.3 209.3,581.1 233.6,496.7 277.1,555.5 320,594.1 349.2,529.9 370.8,472.8 441.3,654.5 459.5,611.7 477.1,571.5 491.1,600.7 520.3,571.8 544.9,685.8 563.1,584.8 583.1,558.2 610.3,562.8 652.2,589.4 673.8,608.7 763.8,586.4"/>
<polyline fill="none" stroke="#6666cc" stroke-width="6.4" stroke-linejoin="round" stroke-linecap="round" points="1010.2,624.3 1045.4,572.8 1077,619.6 1104.5,650.5 1130.5,599.7 1160.4,622.3 1208.9,666.5 1233.8,637.9 1255.1,627 1271.7,555.8 1291.3,595.4 1319.2,537.6 1357.4,613.3"/>
<circle cx="183.7" cy="622.3" r="6.6" fill="#9400d3" stroke="#fff" stroke-width="1.4"/>
<line x1="177.8" y1="622.3" x2="196" y2="622.3" stroke="#000" stroke-width="1.15"/>
<circle cx="209.3" cy="581.1" r="6.6" fill="#9400d3" stroke="#fff" stroke-width="1.4"/>
<line x1="201.7" y1="581.1" x2="219.3" y2="581.1" stroke="#000" stroke-width="1.15"/>
<circle cx="233.6" cy="496.7" r="6.6" fill="#9400d3" stroke="#fff" stroke-width="1.4"/>
<line x1="225.9" y1="496.7" x2="243.6" y2="496.7" stroke="#000" stroke-width="1.15"/>
<circle cx="277.1" cy="555.5" r="6.6" fill="#9400d3" stroke="#fff" stroke-width="1.4"/>
<line x1="266.8" y1="555.5" x2="293.1" y2="555.5" stroke="#000" stroke-width="1.15"/>
<circle cx="320" cy="594.1" r="6.6" fill="#9400d3" stroke="#fff" stroke-width="1.4"/>
<line x1="307.7" y1="594.1" x2="328.3" y2="594.1" stroke="#000" stroke-width="1.15"/>
<circle cx="349.2" cy="529.9" r="6.6" fill="#9400d3" stroke="#fff" stroke-width="1.4"/>
<line x1="335.6" y1="529.9" x2="357.2" y2="529.9" stroke="#000" stroke-width="1.15"/>
<circle cx="370.8" cy="472.8" r="6.6" fill="#9400d3" stroke="#fff" stroke-width="1.4"/>
<line x1="364.8" y1="472.8" x2="377.1" y2="472.8" stroke="#000" stroke-width="1.15"/>
<circle cx="441.3" cy="654.5" r="6.6" fill="#9400d3" stroke="#fff" stroke-width="1.4"/>
<line x1="418" y1="654.5" x2="446.9" y2="654.5" stroke="#000" stroke-width="1.15"/>
<circle cx="459.5" cy="611.7" r="6.6" fill="#9400d3" stroke="#fff" stroke-width="1.4"/>
<line x1="453.5" y1="611.7" x2="465.8" y2="611.7" stroke="#000" stroke-width="1.15"/>
<circle cx="477.1" cy="571.5" r="6.6" fill="#9400d3" stroke="#fff" stroke-width="1.4"/>
<line x1="471.8" y1="571.5" x2="485.1" y2="571.5" stroke="#000" stroke-width="1.15"/>
<circle cx="491.1" cy="600.7" r="6.6" fill="#9400d3" stroke="#fff" stroke-width="1.4"/>
<line x1="485.1" y1="600.7" x2="497.4" y2="600.7" stroke="#000" stroke-width="1.15"/>
<circle cx="520.3" cy="571.8" r="6.6" fill="#9400d3" stroke="#fff" stroke-width="1.4"/>
<line x1="514.3" y1="571.8" x2="526.6" y2="571.8" stroke="#000" stroke-width="1.15"/>
<circle cx="544.9" cy="685.8" r="6.6" fill="#9400d3" stroke="#fff" stroke-width="1.4"/>
<line x1="537.5" y1="685.8" x2="552.2" y2="685.8" stroke="#000" stroke-width="1.15"/>
<circle cx="563.1" cy="584.8" r="6.6" fill="#9400d3" stroke="#fff" stroke-width="1.4"/>
<line x1="557.2" y1="584.8" x2="569.8" y2="584.8" stroke="#000" stroke-width="1.15"/>
<circle cx="583.1" cy="558.2" r="6.6" fill="#9400d3" stroke="#fff" stroke-width="1.4"/>
<line x1="575.4" y1="558.2" x2="589.7" y2="558.2" stroke="#000" stroke-width="1.15"/>
<circle cx="610.3" cy="562.8" r="6.6" fill="#9400d3" stroke="#fff" stroke-width="1.4"/>
<line x1="603.7" y1="562.8" x2="618" y2="562.8" stroke="#000" stroke-width="1.15"/>
<circle cx="652.2" cy="589.4" r="6.6" fill="#9400d3" stroke="#fff" stroke-width="1.4"/>
<line x1="635.6" y1="589.4" x2="660.2" y2="589.4" stroke="#000" stroke-width="1.15"/>
<circle cx="673.8" cy="608.7" r="6.6" fill="#9400d3" stroke="#fff" stroke-width="1.4"/>
<line x1="667.1" y1="608.7" x2="681.8" y2="608.7" stroke="#000" stroke-width="1.15"/>
<circle cx="763.8" cy="586.4" r="6.6" fill="#9400d3" stroke="#fff" stroke-width="1.4"/>
<line x1="747.9" y1="586.4" x2="782.4" y2="586.4" stroke="#000" stroke-width="1.15"/>
<circle cx="1010.2" cy="624.3" r="6.6" fill="#9400d3" stroke="#fff" stroke-width="1.4"/>
<line x1="1002.5" y1="624.3" x2="1018.5" y2="624.3" stroke="#000" stroke-width="1.15"/>
<circle cx="1045.4" cy="572.8" r="6.6" fill="#9400d3" stroke="#fff" stroke-width="1.4"/>
<line x1="1038.1" y1="572.8" x2="1052.4" y2="572.8" stroke="#000" stroke-width="1.15"/>
<circle cx="1077" cy="619.6" r="6.6" fill="#9400d3" stroke="#fff" stroke-width="1.4"/>
<line x1="1071.3" y1="619.6" x2="1082.9" y2="619.6" stroke="#000" stroke-width="1.15"/>
<circle cx="1104.5" cy="650.5" r="6.6" fill="#9400d3" stroke="#fff" stroke-width="1.4"/>
<line x1="1098.9" y1="650.5" x2="1110.2" y2="650.5" stroke="#000" stroke-width="1.15"/>
<circle cx="1130.5" cy="599.7" r="6.6" fill="#9400d3" stroke="#fff" stroke-width="1.4"/>
<line x1="1125.1" y1="599.7" x2="1138.8" y2="599.7" stroke="#000" stroke-width="1.15"/>
<circle cx="1160.4" cy="622.3" r="6.6" fill="#9400d3" stroke="#fff" stroke-width="1.4"/>
<line x1="1155.4" y1="622.3" x2="1166" y2="622.3" stroke="#000" stroke-width="1.15"/>
<circle cx="1208.9" cy="666.5" r="6.6" fill="#9400d3" stroke="#fff" stroke-width="1.4"/>
<line x1="1198.6" y1="666.5" x2="1221.8" y2="666.5" stroke="#000" stroke-width="1.15"/>
<circle cx="1233.8" cy="637.9" r="6.6" fill="#9400d3" stroke="#fff" stroke-width="1.4"/>
<line x1="1229.8" y1="637.9" x2="1239.1" y2="637.9" stroke="#000" stroke-width="1.15"/>
<circle cx="1255.1" cy="627" r="6.6" fill="#9400d3" stroke="#fff" stroke-width="1.4"/>
<line x1="1249.1" y1="627" x2="1260.7" y2="627" stroke="#000" stroke-width="1.15"/>
<circle cx="1271.7" cy="555.8" r="6.6" fill="#9400d3" stroke="#fff" stroke-width="1.4"/>
<line x1="1266.4" y1="555.8" x2="1277.3" y2="555.8" stroke="#000" stroke-width="1.15"/>
<circle cx="1291.3" cy="595.4" r="6.6" fill="#9400d3" stroke="#fff" stroke-width="1.4"/>
<line x1="1282.3" y1="595.4" x2="1295.6" y2="595.4" stroke="#000" stroke-width="1.15"/>
<circle cx="1319.2" cy="537.6" r="6.6" fill="#9400d3" stroke="#fff" stroke-width="1.4"/>
<line x1="1313.2" y1="537.6" x2="1325.5" y2="537.6" stroke="#000" stroke-width="1.15"/>
<circle cx="1357.4" cy="613.3" r="6.6" fill="#9400d3" stroke="#fff" stroke-width="1.4"/>
<line x1="1351.4" y1="613.3" x2="1364.7" y2="613.3" stroke="#000" stroke-width="1.15"/>
</g>
<g id="panel-b">
<polyline fill="none" stroke="#6666cc" stroke-width="4.8" stroke-linejoin="round" stroke-linecap="round" points="172.5,973.4 181.2,1041.2 189.9,956.8 196.8,1010 205,909 212.9,939.7 222.6,942.7 229.5,1026.6 237.9,935.1 262.5,855.8 268.6,979.3 275.2,942.7 288,958.8 303.4,1036 321.8,892.9 332.7,921.5 340.7,960.6 351.9,942.7 359.6,836.7 369.8,780.4 421.7,1075.7 432.4,1085.9 442.1,945.3 449,1001.5 455.4,979.3 461.3,991.3 480.5,940.2 481.5,914.1 486.1,898 491.7,862.2 511.7,888.6 514.5,912.8 521.1,894.2 533.4,884 539.3,1023.3 545.7,1036 555,1011.8 563.9,1000.3 570.8,966.5 577.2,1002.8 584.3,993.9 599.2,988.2 606.1,901.3 612.5,911.3 631.1,1026.6 638.8,956.3 647,972.1 654.4,956.3 661.8,1024.5 669.2,985.7 676.9,979.3 742.3,983.9 753.8,899.3 765,992.6 775.8,926.9"/>
<polyline fill="none" stroke="#6666cc" stroke-width="4.8" stroke-linejoin="round" stroke-linecap="round" points="997.4,1006.6 1013.7,1004.9 1033.7,1073.1 1040.1,1022 1047,1081.5 1066.9,1016.4 1076.6,1035.5 1094.5,1061.6 1099.4,933.8 1105.5,905.2 1122.1,1048.3 1133.1,987.5 1149.7,1048.8 1155.8,1025.8 1161,937.6 1193.4,1025.8 1199.8,1027.9 1204.9,987.5 1211.3,972.1 1216.4,953 1227.4,884 1233,954.2 1244.5,930.7 1250.2,934.6 1266.3,869.4 1272.1,908.2 1278,876.3 1284.2,910.8 1289.8,984.4 1307.9,863.5 1319.9,884 1352.9,1051.9 1359,967"/>
<circle cx="178.1" cy="985.9" r="6.6" fill="#9400d3" stroke="#fff" stroke-width="1.4"/>
<line x1="172.5" y1="985.9" x2="190.9" y2="985.9" stroke="#000" stroke-width="1.15"/>
<circle cx="203.9" cy="965" r="6.6" fill="#9400d3" stroke="#fff" stroke-width="1.4"/>
<line x1="196.5" y1="965" x2="213.9" y2="965" stroke="#000" stroke-width="1.15"/>
<circle cx="228.7" cy="976.2" r="6.6" fill="#9400d3" stroke="#fff" stroke-width="1.4"/>
<line x1="221.1" y1="976.2" x2="238.4" y2="976.2" stroke="#000" stroke-width="1.15"/>
<circle cx="271.9" cy="936.4" r="6.6" fill="#9400d3" stroke="#fff" stroke-width="1.4"/>
<line x1="261.9" y1="936.4" x2="288" y2="936.4" stroke="#000" stroke-width="1.15"/>
<circle cx="315.1" cy="938.9" r="6.6" fill="#9400d3" stroke="#fff" stroke-width="1.4"/>
<line x1="302.8" y1="938.9" x2="322.8" y2="938.9" stroke="#000" stroke-width="1.15"/>
<circle cx="344.2" cy="933.8" r="6.6" fill="#9400d3" stroke="#fff" stroke-width="1.4"/>
<line x1="331" y1="933.8" x2="351.9" y2="933.8" stroke="#000" stroke-width="1.15"/>
<circle cx="363.9" cy="804.5" r="6.6" fill="#9400d3" stroke="#fff" stroke-width="1.4"/>
<line x1="359.6" y1="804.5" x2="368.5" y2="804.5" stroke="#000" stroke-width="1.15"/>
<circle cx="436.3" cy="979.3" r="6.6" fill="#9400d3" stroke="#fff" stroke-width="1.4"/>
<line x1="413.3" y1="979.3" x2="441.4" y2="979.3" stroke="#000" stroke-width="1.15"/>
<circle cx="454.4" cy="991.1" r="6.6" fill="#9400d3" stroke="#fff" stroke-width="1.4"/>
<line x1="449" y1="991.1" x2="459.8" y2="991.1" stroke="#000" stroke-width="1.15"/>
<circle cx="472" cy="958.6" r="6.6" fill="#9400d3" stroke="#fff" stroke-width="1.4"/>
<line x1="466.9" y1="958.6" x2="479.7" y2="958.6" stroke="#000" stroke-width="1.15"/>
<circle cx="485.8" cy="897.8" r="6.6" fill="#9400d3" stroke="#fff" stroke-width="1.4"/>
<line x1="480.5" y1="897.8" x2="491.7" y2="897.8" stroke="#000" stroke-width="1.15"/>
<circle cx="515" cy="898.8" r="6.6" fill="#9400d3" stroke="#fff" stroke-width="1.4"/>
<line x1="509.9" y1="898.8" x2="520.6" y2="898.8" stroke="#000" stroke-width="1.15"/>
<circle cx="539.8" cy="982.4" r="6.6" fill="#9400d3" stroke="#fff" stroke-width="1.4"/>
<line x1="532.6" y1="982.4" x2="546.2" y2="982.4" stroke="#000" stroke-width="1.15"/>
<circle cx="558" cy="1005.6" r="6.6" fill="#9400d3" stroke="#fff" stroke-width="1.4"/>
<line x1="551.9" y1="1005.6" x2="564.7" y2="1005.6" stroke="#000" stroke-width="1.15"/>
<circle cx="578" cy="991.1" r="6.6" fill="#9400d3" stroke="#fff" stroke-width="1.4"/>
<line x1="570.3" y1="991.1" x2="584.9" y2="991.1" stroke="#000" stroke-width="1.15"/>
<circle cx="605.3" cy="934.8" r="6.6" fill="#9400d3" stroke="#fff" stroke-width="1.4"/>
<line x1="598.4" y1="934.8" x2="612.5" y2="934.8" stroke="#000" stroke-width="1.15"/>
<circle cx="647.5" cy="973.2" r="6.6" fill="#9400d3" stroke="#fff" stroke-width="1.4"/>
<line x1="630.4" y1="973.2" x2="655.4" y2="973.2" stroke="#000" stroke-width="1.15"/>
<circle cx="668.7" cy="962.2" r="6.6" fill="#9400d3" stroke="#fff" stroke-width="1.4"/>
<line x1="661.5" y1="962.2" x2="677.1" y2="962.2" stroke="#000" stroke-width="1.15"/>
<circle cx="759.2" cy="962.2" r="6.6" fill="#9400d3" stroke="#fff" stroke-width="1.4"/>
<line x1="742.8" y1="962.2" x2="777.3" y2="962.2" stroke="#000" stroke-width="1.15"/>
<circle cx="1005" cy="1008.4" r="6.6" fill="#9400d3" stroke="#fff" stroke-width="1.4"/>
<line x1="998.4" y1="1008.4" x2="1013.2" y2="1008.4" stroke="#000" stroke-width="1.15"/>
<circle cx="1040.3" cy="1057.3" r="6.6" fill="#9400d3" stroke="#fff" stroke-width="1.4"/>
<line x1="1033.7" y1="1057.3" x2="1047" y2="1057.3" stroke="#000" stroke-width="1.15"/>
<circle cx="1072" cy="1025" r="6.6" fill="#9400d3" stroke="#fff" stroke-width="1.4"/>
<line x1="1066.4" y1="1025" x2="1078.4" y2="1025" stroke="#000" stroke-width="1.15"/>
<circle cx="1099.4" cy="977.8" r="6.6" fill="#9400d3" stroke="#fff" stroke-width="1.4"/>
<line x1="1093.7" y1="977.8" x2="1105.8" y2="977.8" stroke="#000" stroke-width="1.15"/>
<circle cx="1125.4" cy="1030.9" r="6.6" fill="#9400d3" stroke="#fff" stroke-width="1.4"/>
<line x1="1121.9" y1="1030.9" x2="1133.9" y2="1030.9" stroke="#000" stroke-width="1.15"/>
<circle cx="1155.3" cy="998" r="6.6" fill="#9400d3" stroke="#fff" stroke-width="1.4"/>
<line x1="1149.5" y1="998" x2="1161.5" y2="998" stroke="#000" stroke-width="1.15"/>
<circle cx="1203.9" cy="997.7" r="6.6" fill="#9400d3" stroke="#fff" stroke-width="1.4"/>
<line x1="1193.4" y1="997.7" x2="1216.9" y2="997.7" stroke="#000" stroke-width="1.15"/>
<circle cx="1228.4" cy="901.1" r="6.6" fill="#9400d3" stroke="#fff" stroke-width="1.4"/>
<line x1="1226.6" y1="901.1" x2="1234.3" y2="901.1" stroke="#000" stroke-width="1.15"/>
<circle cx="1249.6" cy="921.3" r="6.6" fill="#9400d3" stroke="#fff" stroke-width="1.4"/>
<line x1="1243.3" y1="921.3" x2="1256.5" y2="921.3" stroke="#000" stroke-width="1.15"/>
<circle cx="1266.5" cy="886.3" r="6.6" fill="#9400d3" stroke="#fff" stroke-width="1.4"/>
<line x1="1260.6" y1="886.3" x2="1272.7" y2="886.3" stroke="#000" stroke-width="1.15"/>
<circle cx="1285.9" cy="946.6" r="6.6" fill="#9400d3" stroke="#fff" stroke-width="1.4"/>
<line x1="1277.3" y1="946.6" x2="1292.3" y2="946.6" stroke="#000" stroke-width="1.15"/>
<circle cx="1314.1" cy="873.7" r="6.6" fill="#9400d3" stroke="#fff" stroke-width="1.4"/>
<line x1="1307.9" y1="873.7" x2="1320.7" y2="873.7" stroke="#000" stroke-width="1.15"/>
<circle cx="1351.9" cy="1018.4" r="6.6" fill="#9400d3" stroke="#fff" stroke-width="1.4"/>
<line x1="1346.3" y1="1018.4" x2="1359.6" y2="1018.4" stroke="#000" stroke-width="1.15"/>
</g>
<g id="panel-c" fill="none" stroke-linejoin="round" stroke-linecap="round">
<polyline stroke="#c9c9c9" stroke-width="4.8" points="190.6,1331.3 200.4,1372.7 212.7,1251 216.4,1271.4 235.2,1284.7 245.4,1422.7 257.7,1405.4 271,1232.6 279.6,1391.1 290.4,1357.3 292.1,1395.1 301.7,1417.2 306.8,1266.3 311.9,1409.5 321.1,1439.1 331.3,1415.6 340.5,1352.2 359.9,1303.1 380,1422.7 405.9,1242.8 410,1244.9 427.4,1446.3 439.7,1370.6 452.4,1341 458.1,1388 466.3,1370.6 470.4,1367.5 475.5,1346.1 475.5,1372.7 484.7,1367.5 492.8,1382.9 494.9,1426.8 504.1,1242.8 512.7,1312.3 516.4,1305.6 522.3,1362.4 531.7,1276.5 539.3,1287.8 540.7,1239.7 561.8,1431.9 578.1,1331.3 578.6,1389 583.5,1310.3 588.4,1387 586.7,1450.4 591.4,1446.3 604.7,1346.1 606.2,1354.2 607.8,1273.5 615,1431.9 621.5,1313.4 623.1,1409.5 625.2,1273.5 630.3,1378.8 632.3,1293.9 635.8,1290.9 637.9,1255.7 637.4,1451.4 645.6,1466.7 647.7,1413.5 652.8,1451.4 652.8,1343 655.8,1321.5 660.3,1291.9 661,1380.8 665,1339.9 665.5,1448.3 668.1,1291.9 671.2,1423.8 675.3,1346.1 677.3,1364.5 680.4,1312.9 683.9,1351.2 688.6,1360.4 689,1414.6 697.2,1341.6 698.8,1438.1 705.5,1380.4 715.1,1427.9 723.9,1320.5 725.4,1362.4 735.6,1302.5 743.8,1388 753.6,1471.8 762.2,1396.2 772.4,1341 782.6,1335.8 784.7,1338.9 792.8,1347.1 800,1380.8 784.1,1339.9 793.3,1346.5 802.1,1391.1 811.7,1487.2 820.9,1409 821.3,1492.3 828.1,1391.1 830.5,1489.2 838.9,1323.6 839.3,1497.4 847.9,1175.3 849.5,1352.2 856.3,1219.3 857.3,1364.5 865.1,1276.5 867.9,1305.2 873.4,1298 877.7,1303.1 882.2,1289.2 891.4,1327.7 899.6,1276.5 902.7,1327.7 908.4,1253 912.9,1395.1 915,1256.1 917.4,1255.7 929.3,1466.7 934.4,1370.6 945.6,1364.5 944.6,1417.6 953.8,1425.8 958.3,1357.3 967.1,1302.1 1012.1,1353.8 1013.1,1410.5 1017.2,1366.9 1022.7,1468.8 1034.6,1398.2 1041.7,1436 1047.9,1431.9 1056,1367.5 1055,1413.5 1060.1,1418.7 1066.3,1427.9 1076.5,1414.6 1077.1,1479 1085.7,1452.4 1094.9,1476.5 1080,1470.8 1086.1,1452.4 1095.3,1476.9 1102.5,1372.7 1110.7,1352.2 1120.9,1378.8 1129.7,1279.2 1138.7,1357.3 1147.5,1307.2 1156.7,1310.3 1160.8,1362.4 1165.9,1351.2 1176.1,1354.2 1185.3,1363.5 1194.9,1353.8 1205.8,1351.2 1209.8,1461.6 1215,1346.1 1223.1,1368.6 1243.6,1307.2 1253.8,1316.4 1264,1329.7 1273.2,1422.7 1284.5,1359.4 1290.2,1271.4 1298.4,1282.7 1301.9,1273.5 1302.5,1331.8 1306.6,1242.8 1323.3,1277.2 1331.5,1329.7 1339.7,1370.6 1345.8,1362.4 1356,1266.3 1357.1,1303.1 1364.8,1230.1 1370.8,1364.5 1375.9,1399.2 1380.4,1339.9 1389.2,1292.5 1397.3,1271.4 1406.5,1271.4 1413.7,1414.6 1421.3,1315 1424.9,1320.5 1429,1337.9 1442.3,1190.7 1450.5,1256.1 1456.2,1426.8"/>
<polyline stroke="#000" stroke-width="5.4" points="191.2,1359.4 195.9,1376.7 201.1,1414.6 205.6,1345 210.7,1323.6 215.8,1331.8 220.5,1345 225.4,1318.5 230.1,1312.9 234.8,1339.5 239.9,1312.9 244.6,1307.6 249.1,1397.2 253.6,1343.6 258.7,1346.5 263.4,1354.2 267.9,1409.5 273,1394.1 278.1,1351.2 282.8,1341.6 287.3,1394.1 292.1,1377.8 296.5,1429.9 301.7,1476.9 310.9,1437.7 314.5,1503.1 318,1456.1 321.5,1461 327.6,1390.6 330.9,1409.5 334.4,1398.2 337.4,1441.2 341.1,1385.9 344.6,1456.1 350.9,1333.8 354.2,1402.3 357.5,1328.7 360.8,1325.6 364,1289.8 367.3,1300.7 371.2,1292.5 377.3,1253.6 380.4,1310.3 384.1,1326.6 388.2,1317 390.6,1274.1 394.3,1296.6 397.2,1365.5 400.4,1335.8 403.9,1349.1 407,1396.8 410.4,1362.4 415.1,1401.3 420.3,1440.1 423.3,1487.2 429.9,1448.3 436.6,1374.7 440.1,1464.3 443.8,1426.8 446.8,1439.1 449.9,1471.8 455,1393.1 461.8,1398.2 463.8,1463.6 469.3,1388 475.1,1435.6 480.2,1323.6 486.5,1320.5 492.3,1362.4 497.4,1325.6 503.5,1342 508.6,1320.5 513.7,1367.5 525.4,1409.5 531.5,1394.1 536.8,1325.6 542.4,1453.4 547.9,1339.5 553.6,1487.2 559.3,1482 564.4,1416.6 570.6,1429.5 575.7,1471.4 581.2,1464.3 586.3,1460.6 590.4,1448.3 596.5,1434 600.6,1411.5 604.1,1403.7 607.8,1426.8 615,1442.2 618.6,1458.5 622.5,1429.5 626.2,1437.1 630.3,1437.1 634.4,1434 637.4,1400.9 641.1,1435.6 648.1,1349.1 652.8,1372.7 663.6,1401.7 670.6,1375.1 674.2,1425.4 677.9,1421.7 681.4,1474.5 685.1,1421.7 688.6,1446.3 691.6,1428.9 695.1,1445.9 697.8,1398.2 701.9,1402.3 714.1,1423.8 717.6,1441.2 721.3,1438.1 724.3,1411.5 727.8,1416.6 731.1,1416.6 734.6,1425.8 737.6,1471.4 740.7,1401.3 744.2,1429.9 750.3,1437.7 754,1409 760.5,1458.5 763.6,1416.6 769.9,1484.1 773.4,1437.7 776.9,1497.4 780.6,1450.4 783.6,1443.2 786.3,1421.7 789.8,1453.4 792.8,1424.8 796.5,1487.2 800,1480 803.1,1437.7 806.6,1517.8 810.7,1515.8 814.8,1517.8 818.4,1435 822.3,1482 826,1460.6 834,1375.1 838.3,1430.3 841.3,1365.1 845.4,1356.7 850.1,1359.4 853.6,1389 857.3,1369.6 861.4,1412.5 865.5,1384.9 869.2,1344 873.2,1365.5 877.1,1328.7 881.2,1399.2 885.3,1356.3 889,1310.3 892.9,1407 900.6,1330.7 904.3,1402.3 908.2,1445.9 912.3,1391.1 916.4,1440.5 920.3,1354.2 924.2,1448.3 927.6,1482 931.9,1470.8 935.8,1505.6 939.5,1421.7 943,1436 946.4,1508.2 949.9,1403.3 953.4,1458.5 956.9,1414.2 960.3,1448.3 963.6,1380.4 967.3,1448.3 970.8,1351.8 974.2,1378.8 977.9,1380.8 981.4,1323.2 984.5,1401.7 987.9,1364.5 991.6,1399.2 994.7,1377.4 998.4,1398.2 1001.9,1401.3 1004.9,1414.6 1009,1406.4 1012.1,1462.6 1015.8,1471.8 1019.2,1431.9 1022.7,1463.6 1026.4,1448.3 1028,1362.4 1032.1,1421.7 1035,1450.4 1040.7,1443.2 1043.8,1465.7 1045.8,1482 1049.1,1398.2 1049.5,1489.2 1053,1484.1 1056,1425.8 1061.2,1416.6 1065.2,1429.9 1069.9,1455.5 1074.4,1349.1 1079.1,1354.2 1080.2,1440.5 1083.6,1417.6 1086.7,1417.6 1087.7,1344 1090.8,1350.2 1094.9,1367.5 1096.9,1435 1099.4,1323.6 1103.5,1347.1 1107.6,1300.1 1111.1,1371 1114.8,1344 1117.8,1458.5 1121.9,1443.2 1124.6,1402.3 1128.1,1397.2 1131.7,1369.6 1134.8,1442.2 1138.3,1456.5 1142.4,1476.9 1145.8,1385.5 1149.5,1409.5 1152.6,1401.3 1156.1,1427.9 1161.8,1421.7 1165.5,1362.4 1170,1438.1 1175.1,1433 1179.6,1393.1 1183.9,1409.5 1188.6,1364.5 1193.1,1430.5 1198,1419.7 1202.3,1372.7 1206.8,1418 1211.5,1374.7 1216.4,1407.4 1220.7,1323.6 1225.6,1318.5 1230.3,1398.2 1235,1401.9 1239.5,1302.5 1244.2,1317.4 1248.3,1373.7 1253.4,1360.4 1257.5,1295 1262.4,1282.1 1267.1,1319.5 1271.6,1383.9 1277.3,1373.7 1280,1305.2 1283,1381.9 1286.9,1404.3 1290.6,1401.3 1296.7,1312.9 1300.4,1312.9 1303.9,1294.5 1307,1394.1 1310.4,1327.7 1313.7,1310.3 1318.2,1334.8 1323.9,1368.6 1328,1365.5 1334.2,1294.3 1337.6,1352.8 1340.7,1291.9 1344.8,1298 1349.9,1329.7 1357.5,1402.3 1361.6,1349.1 1364.8,1415.2 1371.8,1328.7 1374.8,1433 1381.6,1369.6 1385.1,1396.8 1388.1,1362.4 1391.8,1363.5 1395.3,1351.8 1398.4,1365.5 1402,1338.9 1405.5,1382.9 1409.2,1377.8 1412.7,1391.1 1415.7,1343 1419.4,1328.7 1423.3,1378.4 1427,1341 1431.1,1348.1 1435.2,1385.9 1438.8,1333.8 1442.9,1394.1 1445.4,1310.9 1449.5,1362.4 1450.5,1278.6 1453.6,1260.6 1454.6,1321.5"/>
</g>
<g id="panel-d">
<line x1="187.1" y1="1658.7" x2="187.1" y2="1901.5" stroke="#7878ff" stroke-width="1.5" stroke-dasharray="14.5 11.5"/>
<line x1="212.9" y1="1633.1" x2="212.9" y2="1855.5" stroke="#7878ff" stroke-width="1.5" stroke-dasharray="14.5 11.5"/>
<line x1="237.2" y1="1505.3" x2="237.2" y2="1778.8" stroke="#7878ff" stroke-width="1.5" stroke-dasharray="14.5 11.5"/>
<line x1="280.9" y1="1604.5" x2="280.9" y2="1867.8" stroke="#7878ff" stroke-width="1.5" stroke-dasharray="14.5 11.5"/>
<line x1="323.8" y1="1663.3" x2="323.8" y2="1884.9" stroke="#7878ff" stroke-width="1.5" stroke-dasharray="14.5 11.5"/>
<line x1="352.9" y1="1608.8" x2="352.9" y2="1804.9" stroke="#7878ff" stroke-width="1.5" stroke-dasharray="14.5 11.5"/>
<line x1="374.4" y1="1606.3" x2="374.4" y2="1854.2" stroke="#7878ff" stroke-width="1.5" stroke-dasharray="14.5 11.5"/>
<line x1="445" y1="1704.7" x2="445" y2="1925.8" stroke="#7878ff" stroke-width="1.5" stroke-dasharray="14.5 11.5"/>
<line x1="463.1" y1="1662.5" x2="463.1" y2="1858.1" stroke="#7878ff" stroke-width="1.5" stroke-dasharray="14.5 11.5"/>
<line x1="480.7" y1="1628" x2="480.7" y2="1850.4" stroke="#7878ff" stroke-width="1.5" stroke-dasharray="14.5 11.5"/>
<line x1="494.5" y1="1702.1" x2="494.5" y2="1924.5" stroke="#7878ff" stroke-width="1.5" stroke-dasharray="14.5 11.5"/>
<line x1="524" y1="1663.8" x2="524" y2="1884.9" stroke="#7878ff" stroke-width="1.5" stroke-dasharray="14.5 11.5"/>
<line x1="548.6" y1="1754.5" x2="548.6" y2="1950.1" stroke="#7878ff" stroke-width="1.5" stroke-dasharray="14.5 11.5"/>
<line x1="567" y1="1608.8" x2="567" y2="1829.9" stroke="#7878ff" stroke-width="1.5" stroke-dasharray="14.5 11.5"/>
<line x1="586.9" y1="1597.3" x2="586.9" y2="1809.5" stroke="#7878ff" stroke-width="1.5" stroke-dasharray="14.5 11.5"/>
<line x1="614" y1="1607.1" x2="614" y2="1879.8" stroke="#7878ff" stroke-width="1.5" stroke-dasharray="14.5 11.5"/>
<line x1="656.2" y1="1640.8" x2="656.2" y2="1860.6" stroke="#7878ff" stroke-width="1.5" stroke-dasharray="14.5 11.5"/>
<line x1="677.4" y1="1660.5" x2="677.4" y2="1900.2" stroke="#7878ff" stroke-width="1.5" stroke-dasharray="14.5 11.5"/>
<line x1="767.9" y1="1622.9" x2="767.9" y2="1886.2" stroke="#7878ff" stroke-width="1.5" stroke-dasharray="14.5 11.5"/>
<line x1="1014" y1="1637" x2="1014" y2="1896.4" stroke="#7878ff" stroke-width="1.5" stroke-dasharray="14.5 11.5"/>
<line x1="1048.8" y1="1536.8" x2="1048.8" y2="1809.5" stroke="#7878ff" stroke-width="1.5" stroke-dasharray="14.5 11.5"/>
<line x1="1081" y1="1614.5" x2="1081" y2="1887.4" stroke="#7878ff" stroke-width="1.5" stroke-dasharray="14.5 11.5"/>
<line x1="1108.1" y1="1700.1" x2="1108.1" y2="1936" stroke="#7878ff" stroke-width="1.5" stroke-dasharray="14.5 11.5"/>
<line x1="1134.1" y1="1599.9" x2="1134.1" y2="1846.5" stroke="#7878ff" stroke-width="1.5" stroke-dasharray="14.5 11.5"/>
<line x1="1164" y1="1658.7" x2="1164" y2="1879.8" stroke="#7878ff" stroke-width="1.5" stroke-dasharray="14.5 11.5"/>
<line x1="1212.3" y1="1675" x2="1212.3" y2="1971.5" stroke="#7878ff" stroke-width="1.5" stroke-dasharray="14.5 11.5"/>
<line x1="1237.4" y1="1714.9" x2="1237.4" y2="1987.4" stroke="#7878ff" stroke-width="1.5" stroke-dasharray="14.5 11.5"/>
<line x1="1258.6" y1="1725.1" x2="1258.6" y2="1921.9" stroke="#7878ff" stroke-width="1.5" stroke-dasharray="14.5 11.5"/>
<line x1="1275.5" y1="1663.3" x2="1275.5" y2="1877.2" stroke="#7878ff" stroke-width="1.5" stroke-dasharray="14.5 11.5"/>
<line x1="1294.9" y1="1680.4" x2="1294.9" y2="1870.8" stroke="#7878ff" stroke-width="1.5" stroke-dasharray="14.5 11.5"/>
<line x1="1323" y1="1638.8" x2="1323" y2="1877.2" stroke="#7878ff" stroke-width="1.5" stroke-dasharray="14.5 11.5"/>
<line x1="1360.8" y1="1651.5" x2="1360.8" y2="1845.3" stroke="#7878ff" stroke-width="1.5" stroke-dasharray="14.5 11.5"/>
<line x1="187.1" y1="1720.8" x2="187.1" y2="1839.4" stroke="#003399" stroke-width="4.6" stroke-linecap="round"/>
<line x1="212.9" y1="1690.8" x2="212.9" y2="1801.1" stroke="#003399" stroke-width="4.6" stroke-linecap="round"/>
<line x1="237.2" y1="1575.8" x2="237.2" y2="1711.6" stroke="#003399" stroke-width="4.6" stroke-linecap="round"/>
<line x1="280.9" y1="1670.9" x2="280.9" y2="1800.3" stroke="#003399" stroke-width="4.6" stroke-linecap="round"/>
<line x1="323.8" y1="1722" x2="323.8" y2="1835.1" stroke="#003399" stroke-width="4.6" stroke-linecap="round"/>
<line x1="352.9" y1="1660.7" x2="352.9" y2="1758.9" stroke="#003399" stroke-width="4.6" stroke-linecap="round"/>
<line x1="374.4" y1="1669.6" x2="374.4" y2="1793.4" stroke="#003399" stroke-width="4.6" stroke-linecap="round"/>
<line x1="445" y1="1764.2" x2="445" y2="1878.5" stroke="#003399" stroke-width="4.6" stroke-linecap="round"/>
<line x1="463.1" y1="1714.4" x2="463.1" y2="1813.9" stroke="#003399" stroke-width="4.6" stroke-linecap="round"/>
<line x1="480.7" y1="1684.2" x2="480.7" y2="1794.2" stroke="#003399" stroke-width="4.6" stroke-linecap="round"/>
<line x1="494.5" y1="1759.1" x2="494.5" y2="1868.3" stroke="#003399" stroke-width="4.6" stroke-linecap="round"/>
<line x1="524" y1="1723.3" x2="524" y2="1836.9" stroke="#003399" stroke-width="4.6" stroke-linecap="round"/>
<line x1="548.6" y1="1806.9" x2="548.6" y2="1906.4" stroke="#003399" stroke-width="4.6" stroke-linecap="round"/>
<line x1="567" y1="1667.8" x2="567" y2="1779.4" stroke="#003399" stroke-width="4.6" stroke-linecap="round"/>
<line x1="586.9" y1="1651.7" x2="586.9" y2="1755.1" stroke="#003399" stroke-width="4.6" stroke-linecap="round"/>
<line x1="614" y1="1677.3" x2="614" y2="1813.4" stroke="#003399" stroke-width="4.6" stroke-linecap="round"/>
<line x1="656.2" y1="1696.5" x2="656.2" y2="1804.9" stroke="#003399" stroke-width="4.6" stroke-linecap="round"/>
<line x1="677.4" y1="1721.5" x2="677.4" y2="1838.7" stroke="#003399" stroke-width="4.6" stroke-linecap="round"/>
<line x1="767.9" y1="1689.6" x2="767.9" y2="1819.5" stroke="#003399" stroke-width="4.6" stroke-linecap="round"/>
<line x1="1014" y1="1703.6" x2="1014" y2="1830.5" stroke="#003399" stroke-width="4.6" stroke-linecap="round"/>
<line x1="1048.8" y1="1607.5" x2="1048.8" y2="1743.1" stroke="#003399" stroke-width="4.6" stroke-linecap="round"/>
<line x1="1081" y1="1684.2" x2="1081" y2="1817.7" stroke="#003399" stroke-width="4.6" stroke-linecap="round"/>
<line x1="1108.1" y1="1760.4" x2="1108.1" y2="1875.5" stroke="#003399" stroke-width="4.6" stroke-linecap="round"/>
<line x1="1134.1" y1="1663.2" x2="1134.1" y2="1784" stroke="#003399" stroke-width="4.6" stroke-linecap="round"/>
<line x1="1164" y1="1716.9" x2="1164" y2="1827.2" stroke="#003399" stroke-width="4.6" stroke-linecap="round"/>
<line x1="1212.3" y1="1750.7" x2="1212.3" y2="1896.4" stroke="#003399" stroke-width="4.6" stroke-linecap="round"/>
<line x1="1237.4" y1="1785.9" x2="1237.4" y2="1922.5" stroke="#003399" stroke-width="4.6" stroke-linecap="round"/>
<line x1="1258.6" y1="1778.3" x2="1258.6" y2="1878.3" stroke="#003399" stroke-width="4.6" stroke-linecap="round"/>
<line x1="1275.5" y1="1718.2" x2="1275.5" y2="1822.3" stroke="#003399" stroke-width="4.6" stroke-linecap="round"/>
<line x1="1294.9" y1="1729.7" x2="1294.9" y2="1821.5" stroke="#003399" stroke-width="4.6" stroke-linecap="round"/>
<line x1="1323" y1="1699.5" x2="1323" y2="1815.9" stroke="#003399" stroke-width="4.6" stroke-linecap="round"/>
<line x1="1360.8" y1="1701.6" x2="1360.8" y2="1794.7" stroke="#003399" stroke-width="4.6" stroke-linecap="round"/>
<circle cx="187.1" cy="1779.8" r="6.4" fill="#c8c8ff" stroke="#fff" stroke-width="1.4"/>
<line x1="180.7" y1="1779.8" x2="199.8" y2="1779.8" stroke="#000" stroke-width="1.15"/>
<circle cx="212.9" cy="1745.8" r="6.4" fill="#c8c8ff" stroke="#fff" stroke-width="1.4"/>
<line x1="205" y1="1745.8" x2="222.3" y2="1745.8" stroke="#000" stroke-width="1.15"/>
<circle cx="237.2" cy="1643.4" r="6.4" fill="#c8c8ff" stroke="#fff" stroke-width="1.4"/>
<line x1="229.2" y1="1643.4" x2="247.1" y2="1643.4" stroke="#000" stroke-width="1.15"/>
<circle cx="280.9" cy="1735.9" r="6.4" fill="#c8c8ff" stroke="#fff" stroke-width="1.4"/>
<line x1="270.1" y1="1735.9" x2="296.2" y2="1735.9" stroke="#000" stroke-width="1.15"/>
<circle cx="323.8" cy="1778.8" r="6.4" fill="#c8c8ff" stroke="#fff" stroke-width="1.4"/>
<line x1="311" y1="1778.8" x2="331.5" y2="1778.8" stroke="#000" stroke-width="1.15"/>
<circle cx="352.9" cy="1709.8" r="6.4" fill="#c8c8ff" stroke="#fff" stroke-width="1.4"/>
<line x1="339.1" y1="1709.8" x2="360.1" y2="1709.8" stroke="#000" stroke-width="1.15"/>
<circle cx="374.4" cy="1731.5" r="6.4" fill="#c8c8ff" stroke="#fff" stroke-width="1.4"/>
<line x1="368.5" y1="1731.5" x2="380" y2="1731.5" stroke="#000" stroke-width="1.15"/>
<circle cx="445" cy="1821.5" r="6.4" fill="#c8c8ff" stroke="#fff" stroke-width="1.4"/>
<line x1="421.4" y1="1821.5" x2="451.6" y2="1821.5" stroke="#000" stroke-width="1.15"/>
<circle cx="463.1" cy="1764" r="6.4" fill="#c8c8ff" stroke="#fff" stroke-width="1.4"/>
<line x1="456.7" y1="1764" x2="469.5" y2="1764" stroke="#000" stroke-width="1.15"/>
<circle cx="480.7" cy="1739.2" r="6.4" fill="#c8c8ff" stroke="#fff" stroke-width="1.4"/>
<line x1="474.6" y1="1739.2" x2="488.7" y2="1739.2" stroke="#000" stroke-width="1.15"/>
<circle cx="494.5" cy="1813.8" r="6.4" fill="#c8c8ff" stroke="#fff" stroke-width="1.4"/>
<line x1="488.1" y1="1813.8" x2="501.4" y2="1813.8" stroke="#000" stroke-width="1.15"/>
<circle cx="524" cy="1780.1" r="6.4" fill="#c8c8ff" stroke="#fff" stroke-width="1.4"/>
<line x1="517.9" y1="1780.1" x2="530.2" y2="1780.1" stroke="#000" stroke-width="1.15"/>
<circle cx="548.6" cy="1856.8" r="6.4" fill="#c8c8ff" stroke="#fff" stroke-width="1.4"/>
<line x1="541.4" y1="1856.8" x2="555" y2="1856.8" stroke="#000" stroke-width="1.15"/>
<circle cx="567" cy="1723.6" r="6.4" fill="#c8c8ff" stroke="#fff" stroke-width="1.4"/>
<line x1="560.1" y1="1723.6" x2="574.1" y2="1723.6" stroke="#000" stroke-width="1.15"/>
<circle cx="586.9" cy="1703.4" r="6.4" fill="#c8c8ff" stroke="#fff" stroke-width="1.4"/>
<line x1="578.7" y1="1703.4" x2="593.3" y2="1703.4" stroke="#000" stroke-width="1.15"/>
<circle cx="614" cy="1745.1" r="6.4" fill="#c8c8ff" stroke="#fff" stroke-width="1.4"/>
<line x1="607.3" y1="1745.1" x2="621.4" y2="1745.1" stroke="#000" stroke-width="1.15"/>
<circle cx="656.2" cy="1750.4" r="6.4" fill="#c8c8ff" stroke="#fff" stroke-width="1.4"/>
<line x1="639.3" y1="1750.4" x2="664.1" y2="1750.4" stroke="#000" stroke-width="1.15"/>
<circle cx="677.4" cy="1780.1" r="6.4" fill="#c8c8ff" stroke="#fff" stroke-width="1.4"/>
<line x1="670.2" y1="1780.1" x2="685.8" y2="1780.1" stroke="#000" stroke-width="1.15"/>
<circle cx="767.9" cy="1754.3" r="6.4" fill="#c8c8ff" stroke="#fff" stroke-width="1.4"/>
<line x1="751.2" y1="1754.3" x2="785.8" y2="1754.3" stroke="#000" stroke-width="1.15"/>
<circle cx="1014" cy="1766.8" r="6.4" fill="#c8c8ff" stroke="#fff" stroke-width="1.4"/>
<line x1="1006.3" y1="1766.8" x2="1022.9" y2="1766.8" stroke="#000" stroke-width="1.15"/>
<circle cx="1048.8" cy="1674.8" r="6.4" fill="#c8c8ff" stroke="#fff" stroke-width="1.4"/>
<line x1="1041.3" y1="1674.8" x2="1056.2" y2="1674.8" stroke="#000" stroke-width="1.15"/>
<circle cx="1081" cy="1750.7" r="6.4" fill="#c8c8ff" stroke="#fff" stroke-width="1.4"/>
<line x1="1074.6" y1="1750.7" x2="1087.3" y2="1750.7" stroke="#000" stroke-width="1.15"/>
<circle cx="1108.1" cy="1817.9" r="6.4" fill="#c8c8ff" stroke="#fff" stroke-width="1.4"/>
<line x1="1102.2" y1="1817.9" x2="1114.7" y2="1817.9" stroke="#000" stroke-width="1.15"/>
<circle cx="1134.1" cy="1723.4" r="6.4" fill="#c8c8ff" stroke="#fff" stroke-width="1.4"/>
<line x1="1130.3" y1="1723.4" x2="1142.6" y2="1723.4" stroke="#000" stroke-width="1.15"/>
<circle cx="1164" cy="1771.9" r="6.4" fill="#c8c8ff" stroke="#fff" stroke-width="1.4"/>
<line x1="1158.1" y1="1771.9" x2="1170.4" y2="1771.9" stroke="#000" stroke-width="1.15"/>
<circle cx="1212.3" cy="1823.3" r="6.4" fill="#c8c8ff" stroke="#fff" stroke-width="1.4"/>
<line x1="1201.9" y1="1823.3" x2="1225.9" y2="1823.3" stroke="#000" stroke-width="1.15"/>
<circle cx="1237.4" cy="1854" r="6.4" fill="#c8c8ff" stroke="#fff" stroke-width="1.4"/>
<line x1="1235.6" y1="1854" x2="1242.7" y2="1854" stroke="#000" stroke-width="1.15"/>
<circle cx="1258.6" cy="1828.4" r="6.4" fill="#c8c8ff" stroke="#fff" stroke-width="1.4"/>
<line x1="1252.2" y1="1828.4" x2="1265" y2="1828.4" stroke="#000" stroke-width="1.15"/>
<circle cx="1275.5" cy="1769.9" r="6.4" fill="#c8c8ff" stroke="#fff" stroke-width="1.4"/>
<line x1="1270.1" y1="1769.9" x2="1281.6" y2="1769.9" stroke="#000" stroke-width="1.15"/>
<circle cx="1294.9" cy="1775.5" r="6.4" fill="#c8c8ff" stroke="#fff" stroke-width="1.4"/>
<line x1="1285.9" y1="1775.5" x2="1299.5" y2="1775.5" stroke="#000" stroke-width="1.15"/>
<circle cx="1323" cy="1757.9" r="6.4" fill="#c8c8ff" stroke="#fff" stroke-width="1.4"/>
<line x1="1315.6" y1="1757.9" x2="1329.4" y2="1757.9" stroke="#000" stroke-width="1.15"/>
<circle cx="1360.8" cy="1748.1" r="6.4" fill="#c8c8ff" stroke="#fff" stroke-width="1.4"/>
<line x1="1354.4" y1="1748.1" x2="1368.5" y2="1748.1" stroke="#000" stroke-width="1.15"/>
</g>
<polyline id="panel-e" fill="none" stroke="#000" stroke-width="5.2" stroke-linejoin="round" stroke-linecap="round" points="188.1,2131.1 190.1,2125.5 192.1,2119.6 194.1,2113.4 196.1,2106.9 198.2,2100.3 200.2,2093.6 202.2,2086.8 204.2,2079.9 206.2,2073.1 208.2,2066.3 210.3,2059.6 212.3,2053 214.3,2046.6 216.3,2040.4 218.3,2034.4 220.3,2028.7 222.4,2023.3 224.4,2018.2 226.4,2013.5 228.4,2009.1 230.4,2005.2 232.4,2001.6 234.4,1998.5 236.5,1995.8 238.5,1993.7 240.5,1991.9 242.5,1990.7 244.5,1990 246.5,1989.7 248.6,1990 250.7,1990.8 252.7,1992.2 254.8,1994.2 256.8,1996.6 258.9,1999.6 260.9,2003 263,2006.9 265,2011.3 267.1,2016 269.2,2021 271.2,2026.4 273.3,2032.1 275.3,2037.9 277.4,2044 279.4,2050.1 281.5,2056.4 283.5,2062.6 285.6,2068.9 287.7,2075 289.7,2081 291.8,2086.8 293.8,2092.4 295.9,2097.6 297.9,2102.5 300,2107 302.1,2111 304.1,2114.5 306.2,2117.5 308.2,2119.7 310.3,2121.3 312.3,2122 314.4,2121.2 316.4,2119.4 318.5,2116.8 320.5,2113.4 322.6,2109.4 324.6,2104.7 326.7,2099.6 328.8,2093.9 330.8,2087.8 332.9,2081.3 334.9,2074.5 337,2067.5 339,2060.2 341.1,2052.8 343.1,2045.3 345.2,2037.8 347.2,2030.3 349.3,2022.9 351.3,2015.6 353.4,2008.5 355.4,2001.7 357.5,1995.1 359.5,1988.9 361.6,1983.1 363.6,1977.7 365.7,1972.7 367.7,1968.3 369.8,1964.4 371.8,1961 373.9,1958.2 376,1956 378,1954.4 380.1,1953.5 382.1,1953.2 384.1,1953.5 386.2,1954.4 388.2,1956 390.2,1958.1 392.3,1960.9 394.3,1964.2 396.3,1968.1 398.4,1972.5 400.4,1977.5 402.4,1982.8 404.5,1988.6 406.5,1994.8 408.5,2001.3 410.6,2008.1 412.6,2015.2 414.6,2022.5 416.7,2029.9 418.7,2037.4 420.7,2044.9 422.8,2052.5 424.8,2059.9 426.8,2067.2 428.9,2074.4 430.9,2081.2 432.9,2087.8 435,2094.1 437,2099.9 439,2105.2 441.1,2110 443.1,2114.2 445.1,2117.7 447.2,2120.5 449.2,2122.5 451.2,2123.3 453.2,2122.6 455.3,2121 457.3,2118.7 459.3,2115.8 461.3,2112.4 463.4,2108.4 465.4,2104.1 467.4,2099.3 469.4,2094.3 471.4,2088.9 473.5,2083.4 475.5,2077.6 477.5,2071.8 479.5,2065.8 481.6,2059.9 483.6,2054 485.6,2048.1 487.6,2042.4 489.7,2036.9 491.7,2031.5 493.7,2026.5 495.7,2021.7 497.7,2017.3 499.8,2013.2 501.8,2009.5 503.8,2006.3 505.8,2003.5 507.9,2001.2 509.9,1999.4 511.9,1998.1 513.9,1997.3 515.9,1997 518,1997.3 520,1998 522,1999.3 524,2001 526,2003.2 528,2005.8 530,2009 532,2012.5 534,2016.5 536,2020.8 538,2025.5 540,2030.6 542,2036 544,2041.7 546,2047.6 548,2053.7 550,2060.1 552,2066.5 554,2073.1 556,2079.8 558,2086.4 560,2093.1 562,2099.7 564,2106.1 566,2112.5 568,2118.6 570,2124.4 572.1,2129.9 574.1,2135 576.1,2139.6 578.1,2143.5 580.1,2146.7 582.1,2148.5 584.1,2147.3 586.2,2145.2 588.2,2142.5 590.3,2139.4 592.4,2136 594.4,2132.4 596.5,2128.6 598.5,2124.7 600.6,2120.7 602.6,2116.6 604.7,2112.6 606.8,2108.6 608.8,2104.7 610.9,2100.9 612.9,2097.3 615,2093.9 617,2090.7 619.1,2087.8 621.2,2085.2 623.2,2082.8 625.3,2080.8 627.3,2079.1 629.4,2077.8 631.5,2076.9 633.5,2076.3 635.6,2076.1 637.6,2076.3 639.6,2076.8 641.6,2077.7 643.7,2079 645.7,2080.5 647.7,2082.4 649.7,2084.5 651.7,2086.9 653.8,2089.4 655.8,2092.1 657.8,2094.9 659.8,2097.8 661.9,2100.7 663.9,2103.5 665.9,2106.2 667.9,2108.8 669.9,2111.2 672,2113.4 674,2115.3 676,2116.9 678,2118.2 680.1,2119 682.1,2119.3 684.1,2118.9 686.2,2117.9 688.3,2116.3 690.3,2114.3 692.4,2111.9 694.5,2109.1 696.5,2105.9 698.6,2102.5 700.7,2098.8 702.7,2094.9 704.8,2090.9 706.9,2086.8 708.9,2082.6 711,2078.4 713.1,2074.2 715.1,2070.1 717.2,2066.2 719.2,2062.4 721.3,2058.9 723.4,2055.6 725.4,2052.6 727.5,2049.9 729.6,2047.6 731.6,2045.7 733.7,2044.2 735.8,2043.1 737.8,2042.4 739.9,2042.2 741.9,2042.4 744,2043 746,2044.1 748.1,2045.5 750.1,2047.3 752.2,2049.5 754.2,2052 756.3,2054.9 758.3,2058.2 760.4,2061.7 762.4,2065.6 764.5,2069.7 766.5,2074 768.6,2078.6 770.6,2083.4 772.7,2088.3 774.7,2093.3 776.7,2098.4 778.8,2103.5 780.8,2108.7 782.9,2113.9 784.9,2118.9 787,2123.9 789,2128.7 791.1,2133.3 793.1,2137.7 795.2,2141.7 797.2,2145.4 799.3,2148.5 801.3,2151.1 803.4,2152.5 805.4,2150.6 807.4,2147.2 809.4,2143 811.4,2138.1 813.4,2132.7 815.4,2126.9 817.5,2120.8 819.5,2114.3 821.5,2107.6 823.5,2100.8 825.5,2093.9 827.5,2086.9 829.5,2079.9 831.6,2073 833.6,2066.2 835.6,2059.5 837.6,2052.9 839.6,2046.6 841.6,2040.6 843.6,2034.8 845.7,2029.4 847.7,2024.3 849.7,2019.6 851.7,2015.4 853.7,2011.5 855.7,2008.2 857.7,2005.3 859.8,2003 861.8,2001.1 863.8,1999.8 865.8,1999 867.8,1998.7 869.8,1998.9 871.9,1999.5 873.9,2000.5 875.9,2001.9 877.9,2003.6 880,2005.8 882,2008.3 884,2011.2 886,2014.4 888,2017.9 890.1,2021.8 892.1,2025.9 894.1,2030.3 896.1,2034.9 898.2,2039.8 900.2,2044.8 902.2,2050.1 904.2,2055.4 906.2,2060.9 908.3,2066.5 910.3,2072.1 912.3,2077.7 914.3,2083.4 916.4,2089 918.4,2094.5 920.4,2099.8 922.4,2105.1 924.4,2110.1 926.5,2114.8 928.5,2119.3 930.5,2123.4 932.5,2127.1 934.6,2130.3 936.6,2132.8 938.6,2134.2 940.6,2132.9 942.7,2130.5 944.7,2127.4 946.7,2123.9 948.8,2120 950.8,2115.8 952.8,2111.2 954.9,2106.5 956.9,2101.6 958.9,2096.7 961,2091.6 963,2086.5 965,2081.4 967.1,2076.3 969.1,2071.4 971.1,2066.5 973.2,2061.8 975.2,2057.3 977.2,2052.9 979.3,2048.9 981.3,2045 983.4,2041.5 985.4,2038.3 987.4,2035.4 989.5,2032.8 991.5,2030.7 993.5,2028.8 995.6,2027.4 997.6,2026.4 999.6,2025.8 1001.7,2025.6 1003.7,2025.8 1005.8,2026.4 1007.8,2027.4 1009.9,2028.8 1011.9,2030.6 1014,2032.7 1016,2035.3 1018.1,2038.2 1020.1,2041.4 1022.2,2044.9 1024.2,2048.8 1026.3,2052.9 1028.3,2057.3 1030.4,2061.9 1032.4,2066.8 1034.5,2071.8 1036.5,2077 1038.6,2082.4 1040.7,2087.8 1042.7,2093.4 1044.8,2098.9 1046.8,2104.5 1048.9,2110 1050.9,2115.5 1053,2120.9 1055,2126.1 1057.1,2131.1 1059.1,2136 1061.2,2140.5 1063.2,2144.7 1065.3,2148.5 1067.3,2151.7 1069.4,2154.3 1071.4,2155.8 1073.4,2155 1075.4,2153.7 1077.5,2151.9 1079.5,2149.9 1081.5,2147.7 1083.5,2145.3 1085.5,2142.8 1087.5,2140.2 1089.5,2137.6 1091.5,2134.9 1093.5,2132.2 1095.5,2129.6 1097.5,2127 1099.5,2124.4 1101.5,2122 1103.5,2119.6 1105.5,2117.4 1107.5,2115.4 1109.6,2113.5 1111.6,2111.8 1113.6,2110.3 1115.6,2109 1117.6,2107.9 1119.6,2107.1 1121.6,2106.5 1123.6,2106.1 1125.6,2106 1127.6,2106.1 1129.7,2106.3 1131.7,2106.6 1133.7,2107.1 1135.8,2107.7 1137.8,2108.3 1139.9,2109 1141.9,2109.7 1143.9,2110.3 1146,2111 1148,2111.5 1150.1,2112 1152.1,2112.4 1154.1,2112.6 1156.2,2112.7 1158.2,2112.5 1160.3,2112.1 1162.4,2111.4 1164.4,2110.5 1166.5,2109.4 1168.6,2108 1170.6,2106.4 1172.7,2104.7 1174.8,2102.7 1176.8,2100.7 1178.9,2098.6 1181,2096.3 1183,2094.1 1185.1,2091.8 1187.2,2089.5 1189.2,2087.3 1191.3,2085.2 1193.4,2083.2 1195.4,2081.3 1197.5,2079.6 1199.6,2078 1201.6,2076.6 1203.7,2075.5 1205.8,2074.6 1207.9,2074 1209.9,2073.6 1212,2073.4 1214,2073.6 1216.1,2073.9 1218.1,2074.6 1220.2,2075.5 1222.2,2076.6 1224.3,2077.9 1226.3,2079.5 1228.4,2081.3 1230.4,2083.3 1232.4,2085.5 1234.5,2087.9 1236.5,2090.5 1238.6,2093.2 1240.6,2096 1242.7,2099 1244.7,2102.1 1246.8,2105.2 1248.8,2108.4 1250.9,2111.7 1252.9,2115 1254.9,2118.3 1257,2121.5 1259,2124.7 1261.1,2127.9 1263.1,2130.9 1265.2,2133.8 1267.2,2136.6 1269.3,2139.1 1271.3,2141.4 1273.4,2143.4 1275.4,2145 1277.4,2145.9 1279.5,2144.3 1281.5,2141.7 1283.6,2138.3 1285.6,2134.5 1287.7,2130.2 1289.7,2125.6 1291.8,2120.7 1293.8,2115.6 1295.8,2110.3 1297.9,2104.8 1299.9,2099.3 1302,2093.7 1304,2088.1 1306.1,2082.5 1308.1,2077 1310.1,2071.6 1312.2,2066.2 1314.2,2061.1 1316.3,2056.1 1318.3,2051.4 1320.4,2046.8 1322.4,2042.6 1324.5,2038.6 1326.5,2035 1328.5,2031.6 1330.6,2028.6 1332.6,2026 1334.7,2023.8 1336.7,2021.9 1338.8,2020.5 1340.8,2019.5 1342.9,2018.8 1344.9,2018.6 1346.9,2018.8 1348.9,2019.3 1350.9,2020.2 1352.9,2021.4 1355,2022.9 1357,2024.7 1359,2026.9 1361,2029.3 1363,2032 1365,2034.9 1367,2038 1369,2041.3 1371.1,2044.8 1373.1,2048.5 1375.1,2052.2 1377.1,2056 1379.1,2059.9 1381.1,2063.8 1383.1,2067.6 1385.1,2071.4 1387.2,2075.2 1389.2,2078.8 1391.2,2082.3 1393.2,2085.6 1395.2,2088.7 1397.2,2091.7 1399.2,2094.3 1401.2,2096.8 1403.3,2098.9 1405.3,2100.7 1407.3,2102.3 1409.3,2103.5 1411.3,2104.3 1413.3,2104.8 1415.3,2105 1417.4,2104.8 1419.4,2104.3 1421.4,2103.5 1423.4,2102.3 1425.4,2100.8 1427.4,2099 1429.5,2096.9 1431.5,2094.5 1433.5,2091.8 1435.5,2088.9 1437.5,2085.8 1439.6,2082.4 1441.6,2078.9 1443.6,2075.2 1445.6,2071.4 1447.6,2067.5 1449.6,2063.5 1451.7,2059.5 1453.7,2055.5 1455.7,2051.5 1457.7,2047.5"/>
<path stroke="#000" stroke-width="1.35" fill="none" d="M162.6 324.6V842.6M162.6 324.6H153M162.6 428.2H153M162.6 531.8H153M162.6 635.4H153M162.6 739H153M162.6 842.6H153"/>
<path stroke="#000" stroke-width="1.35" fill="none" d="M1456.3 658.5V1176.6M1456.3 658.5H1465.9M1456.3 794.3H1465.9M1456.3 917.8H1465.9M1456.3 1047.3H1465.9M1456.3 1176.6H1465.9"/>
<path stroke="#000" stroke-width="1.35" fill="none" d="M162.6 1153V1670.6M162.6 1153H153M162.6 1282.3H153M162.6 1411.7H153M162.6 1541H153M162.6 1670.6H153"/>
<path stroke="#000" stroke-width="1.35" fill="none" d="M1456.3 1515.9V2033.8M1456.3 1515.9H1465.9M1456.3 1602.1H1465.9M1456.3 1688.8H1465.9M1456.3 1775.1H1465.9M1456.3 1861.1H1465.9M1456.3 1947.6H1465.9M1456.3 2033.8H1465.9"/>
<path stroke="#000" stroke-width="1.35" fill="none" d="M161.8 1921.6V2171.8M161.8 1921.6H152.2M161.8 1977.1H152.2M161.8 2041.9H152.2M161.8 2106.3H152.2M161.8 2171.8H152.2"/>
<text x="117.85" y="332.5" font-size="23" fill="#000" stroke="#000" stroke-width="0.35" textLength="22.70" lengthAdjust="spacingAndGlyphs">15</text>
<text x="118.38" y="436.1" font-size="23" fill="#000" stroke="#000" stroke-width="0.35" textLength="23.63" lengthAdjust="spacingAndGlyphs">12</text>
<text x="127.49" y="539.7" font-size="23" fill="#000" stroke="#000" stroke-width="0.35" textLength="14.93" lengthAdjust="spacingAndGlyphs">9</text>
<text x="127.82" y="643.3" font-size="23" fill="#000" stroke="#000" stroke-width="0.35" textLength="14.57" lengthAdjust="spacingAndGlyphs">6</text>
<text x="127.83" y="746.9" font-size="23" fill="#000" stroke="#000" stroke-width="0.35" textLength="14.11" lengthAdjust="spacingAndGlyphs">3</text>
<text x="125.84" y="850.5" font-size="23" fill="#000" stroke="#000" stroke-width="0.35" textLength="15.47" lengthAdjust="spacingAndGlyphs">0</text>
<text x="104.60" y="1160.9" font-size="23" fill="#000" stroke="#000" stroke-width="0.35" textLength="32.90" lengthAdjust="spacingAndGlyphs">1.0</text>
<text x="107.37" y="1290.2" font-size="23" fill="#000" stroke="#000" stroke-width="0.35" textLength="29.84" lengthAdjust="spacingAndGlyphs">1.5</text>
<text x="102.15" y="1419.6" font-size="23" fill="#000" stroke="#000" stroke-width="0.35" textLength="35.42" lengthAdjust="spacingAndGlyphs">2.0</text>
<text x="102.16" y="1548.9" font-size="23" fill="#000" stroke="#000" stroke-width="0.35" textLength="35.10" lengthAdjust="spacingAndGlyphs">2.5</text>
<text x="102.64" y="1678.5" font-size="23" fill="#000" stroke="#000" stroke-width="0.35" textLength="34.92" lengthAdjust="spacingAndGlyphs">3.0</text>
<text x="126.80" y="1929.5" font-size="23" fill="#000" stroke="#000" stroke-width="0.35" textLength="14.04" lengthAdjust="spacingAndGlyphs">8</text>
<text x="126.65" y="1985" font-size="23" fill="#000" stroke="#000" stroke-width="0.35" textLength="14.21" lengthAdjust="spacingAndGlyphs">6</text>
<text x="126.77" y="2049.8" font-size="23" fill="#000" stroke="#000" stroke-width="0.35" textLength="13.64" lengthAdjust="spacingAndGlyphs">4</text>
<text x="126.66" y="2114.2" font-size="23" fill="#000" stroke="#000" stroke-width="0.35" textLength="14.13" lengthAdjust="spacingAndGlyphs">2</text>
<text x="125.34" y="2179.7" font-size="23" fill="#000" stroke="#000" stroke-width="0.35" textLength="15.47" lengthAdjust="spacingAndGlyphs">0</text>
<text x="1477.24" y="666.4" font-size="23" fill="#000" stroke="#000" stroke-width="0.35" textLength="32.14" lengthAdjust="spacingAndGlyphs">1.0</text>
<text x="1477.28" y="802.2" font-size="23" fill="#000" stroke="#000" stroke-width="0.35" textLength="31.48" lengthAdjust="spacingAndGlyphs">1.5</text>
<text x="1476.63" y="925.7" font-size="23" fill="#000" stroke="#000" stroke-width="0.35" textLength="36.07" lengthAdjust="spacingAndGlyphs">2.0</text>
<text x="1476.74" y="1055.2" font-size="23" fill="#000" stroke="#000" stroke-width="0.35" textLength="33.07" lengthAdjust="spacingAndGlyphs">2.5</text>
<text x="1477.27" y="1184.5" font-size="23" fill="#000" stroke="#000" stroke-width="0.35" textLength="37.68" lengthAdjust="spacingAndGlyphs">3.0</text>
<text x="1476.13" y="1523.8" font-size="23" fill="#000" stroke="#000" stroke-width="0.35" textLength="36.17" lengthAdjust="spacingAndGlyphs">2.0</text>
<text x="1476.96" y="1610" font-size="23" fill="#000" stroke="#000" stroke-width="0.35" textLength="29.95" lengthAdjust="spacingAndGlyphs">1.5</text>
<text x="1476.85" y="1696.7" font-size="23" fill="#000" stroke="#000" stroke-width="0.35" textLength="31.92" lengthAdjust="spacingAndGlyphs">1.0</text>
<text x="1476.92" y="1783" font-size="23" fill="#000" stroke="#000" stroke-width="0.35" textLength="35.77" lengthAdjust="spacingAndGlyphs">0.5</text>
<text x="1476.82" y="1869" font-size="23" fill="#000" stroke="#000" stroke-width="0.35" textLength="15.81" lengthAdjust="spacingAndGlyphs">0</text>
<text x="1476.70" y="1955.5" font-size="23" fill="#000" stroke="#000" stroke-width="0.35" textLength="48.26" lengthAdjust="spacingAndGlyphs">−0.5</text>
<text x="1476.82" y="2041.7" font-size="23" fill="#000" stroke="#000" stroke-width="0.35" textLength="43.65" lengthAdjust="spacingAndGlyphs">−1.0</text>
<g id="chron">
<rect x="160.8" y="2172.3" width="1297.5" height="49" fill="#fff"/>
<rect x="160.8" y="2171.7" width="293.5" height="50.2" fill="#000"/>
<rect x="1038.9" y="2171.7" width="294.8" height="50.2" fill="#000"/>
<rect x="1435.3" y="2170.7" width="23.2" height="51.2" fill="#000"/>
<path stroke="#000" stroke-width="1.35" fill="none" d="M160.8 2172.3H1458.3M160.8 2221.3H1458.3"/>
<path stroke="#000" stroke-width="1.35" fill="none" d="M187.7 2221.3V2231.3M314.7 2221.3V2231.3M441.7 2221.3V2231.3M568.6 2221.3V2231.3M695.6 2221.3V2231.3M822.6 2221.3V2231.3M949.6 2221.3V2231.3M1076.6 2221.3V2231.3M1203.5 2221.3V2231.3M1330.5 2221.3V2231.3M1457.5 2221.3V2231.3"/>
</g>
<text x="164.96" y="2260.3" font-size="23" fill="#000" stroke="#000" stroke-width="0.35" textLength="45.50" lengthAdjust="spacingAndGlyphs">27.2</text>
<text x="291.24" y="2260.3" font-size="23" fill="#000" stroke="#000" stroke-width="0.35" textLength="46.10" lengthAdjust="spacingAndGlyphs">27.3</text>
<text x="418.14" y="2260.3" font-size="23" fill="#000" stroke="#000" stroke-width="0.35" textLength="46.01" lengthAdjust="spacingAndGlyphs">27.4</text>
<text x="545.34" y="2260.3" font-size="23" fill="#000" stroke="#000" stroke-width="0.35" textLength="45.97" lengthAdjust="spacingAndGlyphs">27.5</text>
<text x="672.23" y="2260.3" font-size="23" fill="#000" stroke="#000" stroke-width="0.35" textLength="46.42" lengthAdjust="spacingAndGlyphs">27.6</text>
<text x="799.58" y="2260.3" font-size="23" fill="#000" stroke="#000" stroke-width="0.35" textLength="44.45" lengthAdjust="spacingAndGlyphs">27.7</text>
<text x="925.83" y="2260.3" font-size="23" fill="#000" stroke="#000" stroke-width="0.35" textLength="46.42" lengthAdjust="spacingAndGlyphs">27.8</text>
<text x="1052.61" y="2260.3" font-size="23" fill="#000" stroke="#000" stroke-width="0.35" textLength="47.15" lengthAdjust="spacingAndGlyphs">27.9</text>
<text x="1188.85" y="2260.3" font-size="23" fill="#000" stroke="#000" stroke-width="0.35" textLength="28.35" lengthAdjust="spacingAndGlyphs">28</text>
<text x="1307.88" y="2260.3" font-size="23" fill="#000" stroke="#000" stroke-width="0.35" textLength="44.45" lengthAdjust="spacingAndGlyphs">28.1</text>
<text x="1434.11" y="2260.3" font-size="23" fill="#000" stroke="#000" stroke-width="0.35" textLength="47.19" lengthAdjust="spacingAndGlyphs">28.2</text>
<text x="280.92" y="2205.3" font-size="25.2" fill="#fff" stroke="#fff" stroke-width="0.35" textLength="55.00" lengthAdjust="spacingAndGlyphs">C9n</text>
<text x="720.60" y="2205.3" font-size="25.2" fill="#000" stroke="#000" stroke-width="0.35" textLength="45.69" lengthAdjust="spacingAndGlyphs">C9r</text>
<text x="1167.65" y="2205.7" font-size="22.8" fill="#fff" stroke="#fff" stroke-width="0.35" textLength="55.78" lengthAdjust="spacingAndGlyphs">C10n</text>
<text x="754.07" y="2306" font-size="27" fill="#000" stroke="#000" stroke-width="0.35" textLength="112.41" lengthAdjust="spacingAndGlyphs">Age (Ma)</text>
<text x="755.61" y="767.8" font-size="25.5" fill="#6666cc" stroke="#6666cc" stroke-width="0.35" textLength="106.95" lengthAdjust="spacingAndGlyphs">Site 699</text>
<text x="755.61" y="1036.2" font-size="25.5" fill="#6666cc" stroke="#6666cc" stroke-width="0.35" textLength="106.95" lengthAdjust="spacingAndGlyphs">Site 699</text>
<text x="755.27" y="1555.9" font-size="25.5" fill="#c9c9c9" stroke="#c9c9c9" stroke-width="0.35" textLength="108.64" lengthAdjust="spacingAndGlyphs">Site 1218</text>
<text x="751.80" y="1590.2" font-size="25.5" fill="#000" stroke="#000" stroke-width="0.35" textLength="114.87" lengthAdjust="spacingAndGlyphs">Site 1264</text>
<text x="755.61" y="1925.3" font-size="25.5" fill="#6666cc" stroke="#6666cc" stroke-width="0.35" textLength="106.95" lengthAdjust="spacingAndGlyphs">Site 699</text>
<text x="0.6" y="595.8" font-size="38" font-weight="bold" fill="#000" stroke="#000" stroke-width="2.1" stroke-linejoin="miter">a</text>
<text x="0.6" y="1001.6" font-size="38" font-weight="bold" fill="#000" stroke="#000" stroke-width="2.1" stroke-linejoin="miter">b</text>
<text x="0.6" y="1422.6" font-size="38" font-weight="bold" fill="#000" stroke="#000" stroke-width="2.1" stroke-linejoin="miter">c</text>
<text x="0.6" y="1778.8" font-size="38" font-weight="bold" fill="#000" stroke="#000" stroke-width="2.1" stroke-linejoin="miter">d</text>
<text x="0.6" y="2046.9" font-size="38" font-weight="bold" fill="#000" stroke="#000" stroke-width="2.1" stroke-linejoin="miter">e</text>
<g transform="translate(94.8 778.8) rotate(-90)" fill="#cc3366" stroke="#cc3366" stroke-width="0.35">
<text x="-2.36" y="0" font-size="27.6" textLength="395.33" lengthAdjust="spacingAndGlyphs">Bottom water temperature (°C)</text>
</g>
<g transform="translate(104 2132.6) rotate(-90)" fill="#000" stroke="#000" stroke-width="0.35">
<text x="-2.30" y="0" font-size="28" textLength="198.45" lengthAdjust="spacingAndGlyphs">Eccentricity (%)</text>
</g>
<g transform="translate(72.1 1491.4) rotate(-90)" fill="#000" stroke="#000" stroke-width="0.35">
<text x="-1.21" y="0" font-size="27.5" textLength="16.49" lengthAdjust="spacingAndGlyphs">δ</text>
<text x="14.87" y="-12.1" font-size="19.6" textLength="17.91" lengthAdjust="spacingAndGlyphs">18</text>
<text x="34.52" y="0" font-size="27.5" textLength="21.87" lengthAdjust="spacingAndGlyphs">O</text>
<text x="56.28" y="8.8" font-size="19.8" textLength="58.92" lengthAdjust="spacingAndGlyphs">calcite</text>
<text x="119.68" y="0" font-size="27.5" textLength="39.54" lengthAdjust="spacingAndGlyphs">(%)</text>
</g>
<g transform="translate(1538.3 837.7) rotate(90)" fill="#6666cc" stroke="#6666cc" stroke-width="0.35">
<text x="-1.21" y="0" font-size="27.5" textLength="16.49" lengthAdjust="spacingAndGlyphs">δ</text>
<text x="14.87" y="-12.1" font-size="19.6" textLength="17.91" lengthAdjust="spacingAndGlyphs">18</text>
<text x="34.52" y="0" font-size="27.5" textLength="21.87" lengthAdjust="spacingAndGlyphs">O</text>
<text x="56.28" y="8.8" font-size="19.8" textLength="58.92" lengthAdjust="spacingAndGlyphs">calcite</text>
<text x="119.68" y="0" font-size="27.5" textLength="39.54" lengthAdjust="spacingAndGlyphs">(%)</text>
</g>
<g transform="translate(1538.3 1713) rotate(90)" fill="#6666cc" stroke="#6666cc" stroke-width="0.35">
<text x="-1.19" y="0" font-size="27.5" textLength="16.25" lengthAdjust="spacingAndGlyphs">δ</text>
<text x="14.36" y="-12.1" font-size="19.6" textLength="18.02" lengthAdjust="spacingAndGlyphs">18</text>
<text x="34.12" y="0" font-size="27.5" textLength="21.87" lengthAdjust="spacingAndGlyphs">O</text>
<text x="56.64" y="8.8" font-size="19.8" textLength="22.27" lengthAdjust="spacingAndGlyphs">sw</text>
<text x="86.81" y="0" font-size="27.5" textLength="38.78" lengthAdjust="spacingAndGlyphs">(%)</text>
</g>
</svg>
</body>
</html>
